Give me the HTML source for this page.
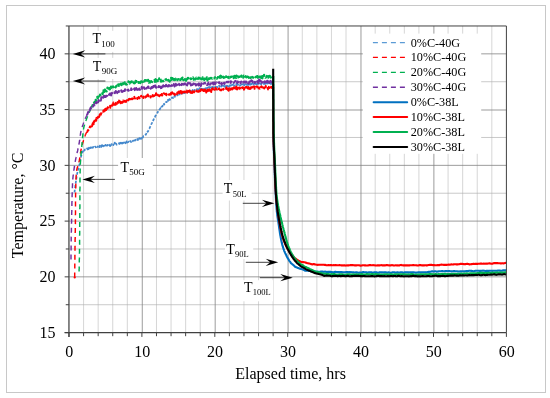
<!DOCTYPE html>
<html lang="en"><head><meta charset="utf-8"><title>Temperature vs elapsed time</title>
<style>html,body{margin:0;padding:0;background:#fff}body{width:550px;height:398px;overflow:hidden}svg{display:block;filter:blur(0.22px)}</style>
</head><body>
<svg width="550" height="398" viewBox="0 0 550 398" font-family="'Liberation Serif', 'Times New Roman', serif">
<rect x="0" y="0" width="550" height="398" fill="#fff"/>
<rect x="6.5" y="5.5" width="539" height="387" fill="#fff" stroke="#c8c8c8" stroke-width="1"/>
<path d="M83.58 25.98V332.60M98.16 25.98V332.60M112.74 25.98V332.60M127.32 25.98V332.60M156.48 25.98V332.60M171.06 25.98V332.60M185.64 25.98V332.60M200.22 25.98V332.60M229.38 25.98V332.60M243.96 25.98V332.60M258.54 25.98V332.60M273.12 25.98V332.60M302.28 25.98V332.60M316.86 25.98V332.60M331.44 25.98V332.60M346.02 25.98V332.60M375.18 25.98V332.60M389.76 25.98V332.60M404.34 25.98V332.60M418.92 25.98V332.60M448.08 25.98V332.60M462.66 25.98V332.60M477.24 25.98V332.60M491.82 25.98V332.60" stroke="#bcbcbc" stroke-width="0.62" fill="none"/>
<path d="M68.95 304.73H506.40M68.95 248.97H506.40M68.95 193.22H506.40M68.95 137.47H506.40M68.95 81.72H506.40" stroke="#adadad" stroke-width="0.65" fill="none"/>
<path d="M142.28 25.98V332.60M215.18 25.98V332.60M288.08 25.98V332.60M360.98 25.98V332.60M433.88 25.98V332.60M68.95 276.85H506.40M68.95 221.10H506.40M68.95 165.35H506.40M68.95 110.00H506.40M68.95 53.85H506.40" stroke="#808080" stroke-width="0.78" fill="none"/>
<path d="M74.5 192.4L74.5 192.1L74.6 191.8L74.6 191.5L74.6 191.2L74.7 190.9L74.7 190.6L74.7 190.3L74.8 190.0L74.8 189.7L74.8 189.4L74.9 189.1L74.9 188.8L75.0 188.5L75.0 188.2L75.0 187.9L75.1 187.6L75.1 187.3L75.2 187.0L75.2 186.7L75.2 186.4L75.3 186.1L75.3 185.8L75.3 185.6L75.4 185.3L75.4 185.0L75.5 184.6L75.5 184.4L75.5 184.1L75.6 183.8L75.6 183.5L75.7 183.2L75.7 182.9L75.8 182.6L75.8 182.3L75.8 182.0L75.9 181.7L75.9 181.4L76.0 181.1L76.0 180.8L76.1 180.5L76.1 180.2L76.1 179.9L76.2 179.6L76.2 179.3L76.3 179.0L76.3 178.7L76.4 178.4L76.4 178.1L76.5 177.9L76.5 177.5L76.5 177.2L76.6 176.9L76.6 176.6L76.7 176.3L76.7 176.1L76.8 175.8L76.8 175.5L76.9 175.2L77.0 174.9L77.0 174.6L77.1 174.3L77.1 174.0L77.2 173.7L77.2 173.4L77.3 173.1L77.4 172.8L77.4 172.6L77.5 172.2L77.6 171.9L77.6 171.7L77.7 171.3L77.8 171.1L77.9 170.8L77.9 170.5L78.0 170.2L78.1 169.9L78.2 169.6L78.3 169.3L78.3 169.1L78.4 168.7L78.5 168.4L78.6 168.2L78.6 167.9L78.7 167.6L78.8 167.3L78.9 167.0L78.9 166.7L79.0 166.5L79.1 166.1L79.1 165.8L79.2 165.6L79.3 165.2L79.3 165.0L79.4 164.7L79.4 164.4L79.5 164.0L79.6 163.8L79.6 163.4L79.7 163.1L79.7 162.9L79.8 162.6L79.8 162.3L79.9 162.0L79.9 161.7L80.0 161.4L80.1 161.1L80.1 160.8L80.2 160.5L80.2 160.2L80.3 159.9L80.3 159.6L80.4 159.3L80.5 159.0L80.5 158.7L80.6 158.4L80.7 158.2L80.7 157.8L80.8 157.6L80.9 157.3L80.9 157.0L81.0 156.7L81.1 156.4L81.2 156.1L81.2 155.8L81.3 155.6L81.4 155.2L81.5 155.0L81.6 154.6L81.7 154.4L81.8 154.0L81.9 153.8L82.0 153.4L82.1 153.0L82.2 152.9L82.3 152.6L82.4 152.2L82.6 152.0L82.7 151.7L82.8 151.4L83.0 151.5L83.1 151.0L83.3 150.9L83.5 150.5L83.7 150.3L83.9 149.9L84.1 150.7L84.4 150.0L84.6 150.3L84.9 149.8L85.2 149.3L85.5 149.4L85.8 149.1L86.1 149.3L86.4 149.0L86.7 148.9L87.0 148.3L87.3 148.4L87.6 149.5L87.9 148.3L88.2 148.0L88.5 148.6L88.7 149.0L89.0 147.5L89.3 148.0L89.6 147.7L89.9 147.1L90.2 148.2L90.5 147.8L90.7 147.7L91.0 147.2L91.3 147.8L91.6 147.2L91.9 147.3L92.2 146.7L92.5 146.6L92.8 147.9L93.1 146.8L93.4 147.2L93.7 146.9L94.0 146.7L94.3 146.6L94.6 147.1L94.9 146.6L95.2 146.6L95.4 146.7L95.7 147.3L96.0 147.0L96.3 146.8L96.6 146.2L96.9 145.7L97.2 147.0L97.5 147.0L97.8 146.3L98.1 146.7L98.4 146.8L98.7 146.8L99.0 146.8L99.3 146.0L99.6 147.1L99.9 145.5L100.2 146.6L100.5 146.4L100.8 146.6L101.1 147.1L101.4 146.9L101.7 145.4L102.0 145.1L102.3 146.4L102.6 145.4L102.9 145.9L103.2 146.3L103.5 144.9L103.8 144.6L104.1 145.9L104.4 145.7L104.7 145.6L105.0 145.7L105.3 145.2L105.6 144.8L105.9 145.5L106.2 145.0L106.5 144.6L106.8 145.7L107.1 145.4L107.4 145.6L107.7 144.8L108.0 145.0L108.3 144.7L108.6 144.8L108.9 145.3L109.2 144.7L109.5 145.3L109.8 145.3L110.1 146.2L110.4 144.3L110.7 145.5L111.0 144.9L111.2 144.9L111.5 144.1L111.8 144.6L112.1 145.2L112.4 144.7L112.7 144.7L113.0 144.5L113.3 145.2L113.6 144.6L113.9 143.3L114.2 144.1L114.5 143.4L114.8 142.6L115.1 144.1L115.4 145.0L115.7 144.3L116.0 143.6L116.3 143.7L116.6 144.7L116.9 144.2L117.2 144.1L117.5 144.0L117.8 144.0L118.1 144.3L118.4 144.1L118.7 143.9L119.0 143.2L119.3 144.0L119.6 143.3L119.9 144.2L120.1 142.9L120.4 143.4L120.7 143.4L121.0 142.7L121.3 144.2L121.6 144.0L121.9 143.0L122.2 143.6L122.5 143.3L122.8 141.7L123.1 143.1L123.4 142.9L123.7 142.9L124.0 142.3L124.3 142.6L124.6 142.6L124.9 143.3L125.2 142.8L125.5 142.5L125.7 143.3L126.0 142.1L126.3 142.1L126.6 141.3L126.9 143.0L127.2 142.7L127.5 142.6L127.8 142.4L128.1 142.0L128.4 142.0L128.7 141.7L129.0 141.7L129.3 141.7L129.6 142.4L129.9 141.8L130.1 141.5L130.4 141.1L130.7 141.0L131.0 142.1L131.3 141.5L131.6 141.2L131.9 140.9L132.2 140.4L132.5 140.9L132.8 141.3L133.0 140.5L133.3 140.5L133.6 140.5L133.9 140.5L134.2 139.6L134.5 140.2L134.8 139.8L135.1 140.6L135.4 139.7L135.6 140.3L135.9 140.6L136.2 139.6L136.5 139.4L136.8 139.7L137.1 139.5L137.4 138.9L137.7 139.5L138.0 140.2L138.3 139.0L138.6 138.9L138.9 138.4L139.1 138.9L139.4 138.1L139.7 138.0L140.0 139.1L140.3 137.9L140.5 138.7L140.8 138.8L141.1 138.1L141.3 138.1L141.6 138.5L141.8 137.5L142.1 137.2L142.3 136.7L142.6 137.2L142.8 137.5L143.0 137.2L143.3 136.3L143.5 136.2L143.7 136.1L144.0 136.2L144.2 135.8L144.4 135.7L144.6 135.5L144.9 135.1L145.1 135.0L145.3 134.8L145.5 134.5L145.7 134.4L145.9 134.5L146.1 134.0L146.3 133.6L146.5 133.0L146.7 133.2L146.9 132.5L147.0 132.4L147.2 132.6L147.4 132.3L147.5 131.9L147.7 131.4L147.9 131.4L148.0 131.1L148.2 131.0L148.3 131.0L148.4 130.4L148.6 130.1L148.7 129.8L148.9 129.6L149.0 129.3L149.1 129.0L149.2 128.8L149.4 128.4L149.5 128.4L149.6 128.1L149.7 127.8L149.9 127.4L150.0 127.2L150.1 126.9L150.2 126.5L150.4 126.3L150.5 125.9L150.6 125.6L150.7 125.5L150.9 125.2L151.0 124.9L151.1 124.8L151.3 124.2L151.4 124.0L151.5 123.9L151.7 123.6L151.8 123.3L151.9 123.1L152.0 122.8L152.2 122.4L152.3 122.1L152.4 122.0L152.6 121.7L152.7 121.2L152.8 121.3L152.9 120.9L153.1 120.7L153.2 120.3L153.3 120.0L153.5 119.7L153.6 119.8L153.7 119.2L153.9 119.1L154.0 118.6L154.1 118.4L154.3 118.0L154.4 117.8L154.5 117.7L154.7 117.2L154.8 117.2L155.0 116.9L155.1 116.4L155.2 116.2L155.4 116.0L155.5 115.8L155.7 115.5L155.8 115.2L156.0 115.0L156.1 114.6L156.3 114.3L156.4 114.2L156.6 114.1L156.8 113.5L156.9 113.5L157.1 113.1L157.2 112.8L157.4 112.8L157.6 112.4L157.7 112.4L157.9 111.8L158.1 111.8L158.2 111.4L158.4 111.1L158.6 111.1L158.7 110.7L158.9 110.6L159.1 110.2L159.3 109.8L159.4 109.7L159.6 109.5L159.8 109.5L160.0 108.8L160.2 108.8L160.4 108.2L160.5 108.5L160.7 107.9L160.9 107.5L161.1 107.6L161.3 107.6L161.5 106.8L161.7 106.7L161.9 106.5L162.1 106.2L162.3 106.3L162.5 105.8L162.7 105.6L162.9 105.7L163.1 105.2L163.3 105.2L163.5 104.7L163.7 104.4L163.9 104.0L164.1 104.8L164.4 103.9L164.6 103.9L164.8 103.6L165.0 103.4L165.2 103.2L165.4 103.5L165.6 102.5L165.9 102.1L166.1 102.1L166.3 101.8L166.5 102.2L166.7 102.1L167.0 101.3L167.2 101.0L167.4 101.1L167.7 101.5L167.9 99.9L168.1 100.8L168.4 100.1L168.6 100.6L168.8 99.7L169.1 99.8L169.3 99.2L169.6 99.2L169.8 99.9L170.1 99.5L170.3 98.9L170.6 98.5L170.8 97.9L171.1 98.4L171.3 98.3L171.6 98.2L171.8 98.0L172.1 97.4L172.3 97.7L172.6 97.6L172.9 98.0L173.1 98.1L173.4 97.1L173.6 96.7L173.9 96.9L174.2 96.5L174.4 96.3L174.7 96.5L175.0 95.9L175.3 96.5L175.5 96.1L175.8 96.1L176.1 95.8L176.4 95.4L176.6 95.2L176.9 95.4L177.2 95.1L177.5 95.4L177.8 95.1L178.0 94.4L178.3 95.0L178.6 94.2L178.9 94.4L179.2 94.5L179.4 93.5L179.7 94.4L180.0 94.4L180.3 94.1L180.6 93.9L180.8 93.8L181.1 93.4L181.4 93.6L181.7 93.4L182.0 93.6L182.3 92.9L182.5 93.5L182.8 93.4L183.1 93.1L183.4 92.9L183.7 93.3L184.0 92.1L184.3 93.1L184.6 92.9L184.8 92.8L185.1 92.8L185.4 92.2L185.7 92.3L186.0 92.7L186.3 92.5L186.6 92.3L186.9 91.4L187.2 92.3L187.4 92.6L187.7 92.4L188.0 91.9L188.3 90.9L188.6 92.2L188.9 91.5L189.2 90.2L189.5 91.6L189.8 90.6L190.1 90.6L190.4 90.9L190.6 91.8L190.9 90.9L191.2 91.2L191.5 91.9L191.8 91.7L192.1 90.8L192.4 90.6L192.7 90.0L193.0 90.3L193.3 90.8L193.6 90.7L193.9 90.5L194.2 90.9L194.4 89.9L194.7 90.2L195.0 90.5L195.3 90.4L195.6 90.6L195.9 90.2L196.2 89.8L196.5 90.1L196.8 89.3L197.1 88.9L197.4 90.0L197.7 89.6L198.0 89.7L198.3 88.6L198.6 89.3L198.9 89.1L199.2 88.9L199.5 88.1L199.7 89.1L200.0 89.7L200.3 89.3L200.6 88.8L200.9 89.0L201.2 89.4L201.5 87.5L201.8 88.8L202.1 89.1L202.4 89.2L202.7 89.7L203.0 89.3L203.3 88.8L203.6 88.8L203.9 89.0L204.2 88.2L204.5 88.4L204.8 88.9L205.1 89.4L205.4 88.2L205.7 88.3L206.0 88.4L206.3 88.9L206.6 88.1L206.9 88.9L207.2 87.6L207.4 87.9L207.7 87.9L208.0 88.4L208.3 88.5L208.6 87.1L208.9 87.3L209.2 88.0L209.5 87.4L209.8 86.9L210.1 88.2L210.4 87.9L210.7 87.9L211.0 87.3L211.3 88.1L211.6 87.3L211.9 88.0L212.2 86.9L212.5 86.9L212.8 87.4L213.1 86.9L213.4 87.6L213.7 87.3L214.0 86.7L214.3 87.2L214.6 86.9L214.9 87.6L215.2 86.7L215.5 86.8L215.8 87.6L216.1 88.1L216.4 88.0L216.7 86.9L217.0 86.9L217.3 87.6L217.6 86.7L217.9 86.2L218.2 86.7L218.5 86.9L218.8 86.2L219.1 85.7L219.4 85.8L219.7 86.9L220.0 86.1L220.3 86.4L220.6 86.5L220.8 86.7L221.1 86.2L221.4 86.6L221.7 85.8L222.0 86.0L222.3 85.7L222.6 86.8L222.9 86.1L223.2 85.7L223.5 85.9L223.8 85.9L224.1 86.4L224.4 85.1L224.7 85.4L225.0 85.7L225.3 87.3L225.6 86.4L225.9 85.8L226.2 86.2L226.5 86.9L226.8 85.6L227.1 85.5L227.4 86.4L227.7 85.9L228.0 86.0L228.3 85.3L228.6 86.6L228.9 86.5L229.2 85.8L229.5 85.9L229.8 84.4L230.1 85.8L230.4 85.3L230.7 85.6L231.0 85.7L231.3 85.1L231.6 84.4L231.9 85.5L232.2 84.8L232.5 85.0L232.8 84.9L233.1 85.0L233.4 83.9L233.7 85.8L234.0 85.2L234.3 85.6L234.6 86.1L234.9 85.0L235.2 84.0L235.5 84.4L235.8 84.2L236.1 84.6L236.4 84.9L236.7 83.7L237.0 85.0L237.3 83.9L237.6 84.9L237.9 84.6L238.2 84.5L238.5 84.6L238.8 84.3L239.1 84.3L239.4 83.7L239.7 84.5L240.0 85.5L240.3 85.6L240.6 85.2L240.9 84.8L241.2 84.1L241.5 85.2L241.8 84.4L242.1 84.3L242.4 84.2L242.7 84.4L243.0 84.1L243.3 84.3L243.6 83.7L243.9 84.1L244.2 85.5L244.5 84.2L244.8 84.1L245.1 84.5L245.4 84.6L245.7 83.6L246.0 84.1L246.3 84.7L246.6 84.3L246.9 84.2L247.2 85.0L247.4 83.8L247.7 84.2L248.0 83.8L248.3 84.9L248.6 83.0L248.9 83.7L249.2 83.8L249.5 84.4L249.8 84.4L250.1 84.8L250.4 83.2L250.7 84.4L251.0 83.8L251.3 83.6L251.6 84.3L251.9 83.5L252.2 82.8L252.5 83.7L252.8 83.1L253.1 83.6L253.4 84.1L253.7 84.1L254.0 84.8L254.3 83.8L254.6 83.0L254.9 83.5L255.2 83.4L255.5 83.2L255.8 84.1L256.1 83.5L256.4 82.8L256.7 84.2L257.0 83.8L257.3 84.0L257.6 83.9L257.9 84.1L258.2 83.8L258.5 84.5L258.8 84.0L259.1 84.0L259.4 84.0L259.7 83.0L260.0 83.7L260.3 83.6L260.6 83.8L260.9 83.0L261.2 84.6L261.5 83.8L261.8 83.0L262.1 82.8L262.4 83.5L262.7 83.6L263.0 83.3L263.3 83.7L263.6 83.3L263.9 84.0L264.2 83.2L264.5 83.6L264.8 84.2L265.1 85.0L265.4 83.1L265.7 83.4L266.0 83.1L266.3 84.0L266.6 83.0L266.9 83.3L267.2 83.6L267.5 83.0L267.8 83.0L268.1 83.3L268.4 82.4L268.7 82.8L269.0 83.3L269.3 83.6L269.6 83.4L269.9 82.6L270.2 83.3L270.5 84.0L270.8 83.8L271.1 83.5L271.4 83.0L271.7 83.9L272.0 83.2" fill="none" stroke="#4488cc" stroke-width="1.7" stroke-dasharray="2.8 1.7" stroke-linejoin="round"/>
<path d="M74.7 277.5L74.7 277.0L74.7 276.5L74.7 276.0L74.7 275.5L74.7 275.0L74.7 274.5L74.7 274.0L74.7 273.5L74.7 273.0L74.7 272.5L74.8 272.0L74.8 271.5L74.8 271.0L74.8 270.5L74.8 270.0L74.8 269.5L74.8 269.0L74.8 268.5L74.8 268.0L74.8 267.5L74.8 267.0L74.8 266.5L74.8 266.0L74.8 265.5L74.8 265.0L74.8 264.5L74.8 264.0L74.8 263.5L74.9 263.0L74.9 262.5L74.9 262.0L74.9 261.5L74.9 261.0L74.9 260.5L74.9 260.0L74.9 259.5L74.9 259.0L74.9 258.5L74.9 258.0L74.9 257.5L74.9 257.0L74.9 256.5L74.9 256.0L74.9 255.5L74.9 255.0L74.9 254.5L75.0 254.0L75.0 253.5L75.0 253.0L75.0 252.5L75.0 252.0L75.0 251.5L75.0 251.0L75.0 250.5L75.0 250.0L75.0 249.5L75.0 249.0L75.0 248.5L75.0 248.0L75.0 247.5L75.0 247.0L75.0 246.5L75.1 246.0L75.1 245.5L75.1 245.0L75.1 244.5L75.1 244.0L75.1 243.5L75.1 243.0L75.1 242.5L75.1 242.0L75.1 241.5L75.1 241.0L75.1 240.5L75.1 240.0L75.1 239.5L75.1 239.0L75.2 238.5L75.2 238.0L75.2 237.5L75.2 237.0L75.2 236.5L75.2 236.0L75.2 235.5L75.2 235.0L75.2 234.5L75.2 234.0L75.2 233.5L75.2 233.0L75.2 232.5L75.2 232.0L75.3 231.5L75.3 231.0L75.3 230.5L75.3 230.0L75.3 229.5L75.3 229.0L75.3 228.5L75.3 228.0L75.3 227.5L75.3 227.0L75.3 226.5L75.3 226.0L75.3 225.5L75.3 225.0L75.3 224.5L75.4 224.0L75.4 223.5L75.4 223.0L75.4 222.5L75.4 222.0L75.4 221.5L75.4 221.0L75.4 220.5L75.4 220.0L75.4 219.5L75.4 219.0L75.4 218.5L75.4 218.0L75.4 217.5L75.4 217.0L75.4 216.5L75.4 216.0L75.4 215.5L75.4 215.0L75.4 214.5L75.5 214.0L75.5 213.5L75.5 213.0L75.5 212.5L75.5 212.0L75.5 211.5L75.5 211.0L75.5 210.5L75.5 210.0L75.5 209.5L75.5 209.0L75.5 208.5L75.5 208.0L75.5 207.5L75.5 207.0L75.5 206.5L75.5 206.0L75.5 205.5L75.5 205.0L75.5 204.5L75.5 204.0L75.5 203.5L75.5 203.0L75.5 202.5L75.5 202.0L75.6 201.5L75.6 201.0L75.6 200.5L75.6 200.0L75.6 199.5L75.6 199.0L75.6 198.5L75.6 198.0L75.6 197.5L75.6 197.0L75.6 196.5L75.6 196.0L75.6 195.5L75.6 195.0L75.6 194.5L75.6 194.0L75.6 193.5L75.7 193.0L75.7 192.5L75.7 192.0L75.7 191.5L75.7 191.0L75.7 190.5L75.7 190.0L75.7 189.5L75.7 189.0L75.7 188.5L75.7 188.0L75.8 187.5L75.8 187.0L75.8 186.5L75.8 186.0L75.8 185.5L75.8 185.0L75.8 184.5L75.8 184.0L75.9 183.5L75.9 183.0L75.9 182.5L75.9 182.0L75.9 181.5L75.9 181.0L76.0 180.5L76.0 180.0L76.0 179.5L76.0 179.0L76.0 178.5L76.1 178.0L76.1 177.5L76.1 177.0L76.1 176.5L76.2 176.0L76.2 175.5L76.2 175.0L76.3 174.5L76.3 174.0L76.4 173.5L76.4 173.0L76.4 172.5L76.5 172.0L76.5 171.5L76.6 171.0L76.7 170.5L76.7 170.1L76.8 169.6L77.0 169.1L77.1 168.6L77.2 168.1L77.4 167.6L77.5 167.1L77.6 166.7L77.8 166.2L77.9 165.7L78.0 165.2L78.2 164.7L78.3 164.2L78.4 163.8L78.6 163.3L78.7 162.8L78.8 162.3L78.9 161.8L79.1 161.3L79.2 160.9L79.3 160.4L79.4 159.9L79.5 159.4L79.6 158.9L79.7 158.4L79.8 157.9L79.9 157.4L80.0 156.9L80.0 156.4L80.1 155.9L80.2 155.4L80.3 155.0L80.3 154.5L80.4 154.0L80.5 153.5L80.5 153.0L80.6 152.5L80.7 152.0L80.8 151.5L80.8 151.0L80.9 150.5L81.0 150.0L81.1 149.5L81.2 149.0L81.3 148.5L81.4 148.1L81.5 147.6L81.6 147.1L81.7 146.6L81.9 146.1L82.0 145.6L82.1 145.1L82.3 144.7L82.4 144.2L82.5 143.7L82.7 143.2L82.8 142.7L83.0 142.3L83.1 141.8L83.3 141.3L83.4 140.8L83.5 140.3L83.7 139.9L83.8 139.4L84.0 138.9L84.1 138.4L84.3 137.9L84.5 137.5L84.6 137.0L84.8 136.5L85.0 136.0L85.1 135.6L85.3 135.1L85.5 134.6L85.7 134.2L85.9 133.7L86.1 133.3L86.3 132.9L86.6 132.4L86.8 132.0L87.0 131.7" fill="none" stroke="#ff0000" stroke-width="1.45" stroke-dasharray="5 3.9" stroke-linejoin="round"/>
<path d="M87.0 131.5L87.2 131.7L87.4 131.7L87.6 131.0L87.8 130.5L88.0 130.4L88.2 129.9L88.4 130.0L88.6 129.8L88.8 129.4L89.0 129.0L89.2 128.3L89.4 128.3L89.6 127.6L89.8 127.4L90.0 126.6L90.2 126.8L90.5 126.5L90.7 126.8L90.9 126.7L91.1 125.8L91.3 125.4L91.5 125.1L91.7 125.8L91.9 126.3L92.1 125.6L92.4 124.4L92.6 125.2L92.8 123.2L93.0 124.4L93.2 122.7L93.4 121.6L93.6 124.3L93.8 123.4L94.0 121.4L94.3 121.9L94.5 121.3L94.7 121.0L94.9 119.7L95.1 120.2L95.3 120.6L95.5 120.2L95.7 120.4L95.9 119.4L96.2 120.7L96.4 118.1L96.6 119.0L96.8 117.9L97.0 118.8L97.3 119.8L97.5 117.7L97.7 117.9L97.9 117.3L98.2 116.7L98.4 116.5L98.6 116.3L98.9 115.7L99.1 116.9L99.3 116.4L99.6 115.2L99.8 114.4L100.0 115.0L100.3 114.7L100.5 115.2L100.7 115.6L101.0 113.7L101.2 113.0L101.4 113.0L101.7 112.9L101.9 112.4L102.2 112.1L102.4 112.1L102.6 111.6L102.9 111.8L103.1 111.2L103.4 110.9L103.6 110.4L103.9 111.5L104.1 110.6L104.4 111.2L104.7 110.5L104.9 110.7L105.2 109.0L105.5 109.6L105.8 111.3L106.1 108.6L106.3 109.8L106.6 109.8L106.9 108.7L107.2 108.7L107.5 108.7L107.8 107.3L108.1 107.5L108.4 106.6L108.7 106.6L109.0 106.5L109.2 106.4L109.5 106.7L109.8 106.9L110.1 105.8L110.4 107.8L110.7 107.2L111.0 107.1L111.3 105.7L111.6 105.7L111.9 105.3L112.2 105.7L112.5 104.4L112.8 105.4L113.1 105.9L113.4 102.5L113.7 104.8L114.0 104.8L114.4 104.1L114.7 104.8L115.0 103.1L115.3 103.8L115.7 104.7L116.0 102.7L116.3 102.7L116.7 102.3L117.0 102.7L117.3 103.6L117.7 102.0L118.0 102.9L118.4 101.3L118.7 102.4L119.0 101.3L119.4 99.8L119.7 101.7L120.0 101.6L120.4 101.9L120.7 103.2L121.1 101.2L121.4 101.2L121.7 102.6L122.1 101.9L122.4 102.7L122.8 101.6L123.1 100.5L123.5 101.0L123.8 101.6L124.1 101.7L124.5 100.9L124.8 101.2L125.2 100.6L125.5 100.4L125.9 101.9L126.2 100.7L126.5 100.4L126.9 100.7L127.2 102.0L127.6 101.5L127.9 100.7L128.3 99.7L128.6 99.9L128.9 99.0L129.3 99.2L129.6 100.3L129.9 98.9L130.3 99.3L130.6 99.2L131.0 99.3L131.3 98.7L131.6 100.3L132.0 99.2L132.3 98.7L132.6 99.1L133.0 98.4L133.3 97.2L133.7 97.5L134.0 97.5L134.3 96.9L134.7 98.2L135.0 98.5L135.4 97.6L135.7 97.1L136.1 97.6L136.4 98.1L136.7 98.1L137.1 97.8L137.4 98.9L137.8 97.6L138.1 97.4L138.5 98.4L138.8 97.0L139.1 97.5L139.5 98.3L139.8 97.8L140.2 97.1L140.5 97.3L140.9 97.5L141.2 95.8L141.6 96.5L141.9 96.1L142.2 95.7L142.6 96.0L142.9 96.7L143.3 98.0L143.6 96.9L144.0 96.6L144.3 96.3L144.7 96.1L145.0 96.6L145.4 97.5L145.7 96.6L146.1 96.3L146.4 96.7L146.7 95.6L147.1 95.7L147.4 96.0L147.8 94.6L148.1 95.5L148.5 96.3L148.8 96.0L149.2 96.6L149.5 96.3L149.9 96.0L150.2 95.9L150.6 97.5L150.9 96.0L151.3 95.4L151.6 95.0L152.0 95.0L152.3 96.1L152.7 95.1L153.0 96.4L153.4 94.8L153.7 96.1L154.1 95.6L154.4 95.9L154.8 94.6L155.1 95.7L155.4 95.0L155.8 95.0L156.1 93.3L156.5 95.7L156.8 94.9L157.2 94.8L157.5 94.7L157.9 94.8L158.2 95.5L158.6 94.5L158.9 95.0L159.3 96.2L159.6 95.9L160.0 95.1L160.3 95.0L160.7 95.4L161.0 95.8L161.4 95.9L161.7 94.1L162.1 95.6L162.4 95.0L162.8 94.6L163.1 95.3L163.5 93.9L163.8 93.2L164.2 93.5L164.5 93.9L164.9 94.2L165.2 94.4L165.6 95.0L165.9 93.8L166.3 95.2L166.6 93.9L167.0 94.2L167.3 94.2L167.7 93.9L168.0 93.5L168.4 94.1L168.7 94.5L169.1 94.9L169.4 94.4L169.8 93.2L170.1 93.5L170.5 93.4L170.8 94.6L171.1 92.8L171.5 94.4L171.8 92.8L172.2 92.3L172.5 93.5L172.9 94.3L173.2 94.6L173.6 94.6L173.9 93.5L174.3 94.5L174.6 94.8L175.0 94.2L175.3 94.9L175.7 94.6L176.0 94.8L176.3 93.9L176.7 93.7L177.0 94.1L177.4 92.6L177.7 93.4L178.1 93.0L178.4 92.8L178.8 91.5L179.1 92.7L179.5 94.0L179.8 92.9L180.2 93.3L180.5 91.1L180.9 93.2L181.2 92.7L181.5 93.5L181.9 91.4L182.2 92.3L182.6 91.5L182.9 92.5L183.3 91.8L183.6 91.9L184.0 93.4L184.3 91.5L184.7 91.9L185.0 92.1L185.4 91.5L185.7 92.3L186.1 92.4L186.4 91.4L186.8 90.6L187.1 92.6L187.5 92.1L187.8 92.4L188.2 92.5L188.5 91.1L188.9 91.6L189.2 91.0L189.5 90.5L189.9 91.9L190.2 90.6L190.6 92.8L190.9 91.5L191.3 91.4L191.6 92.6L192.0 93.0L192.3 92.3L192.7 91.3L193.0 92.6L193.4 93.4L193.7 91.8L194.1 91.3L194.4 92.2L194.8 91.3L195.1 90.6L195.5 90.7L195.8 90.7L196.2 90.8L196.5 90.6L196.9 91.3L197.2 91.7L197.6 90.7L197.9 91.9L198.3 91.9L198.6 91.1L199.0 91.6L199.3 90.5L199.7 90.6L200.0 92.1L200.4 90.9L200.7 89.7L201.1 90.9L201.4 89.4L201.8 89.7L202.1 89.6L202.5 90.0L202.8 90.0L203.2 90.3L203.5 91.0L203.8 89.6L204.2 91.1L204.5 89.5L204.9 89.7L205.2 91.1L205.6 91.0L205.9 90.3L206.3 92.5L206.6 90.8L207.0 91.3L207.3 90.6L207.7 90.9L208.0 89.6L208.4 90.8L208.7 89.9L209.1 90.9L209.4 89.5L209.8 89.9L210.1 91.5L210.5 90.8L210.8 90.5L211.2 91.9L211.5 90.7L211.9 89.1L212.2 89.6L212.6 88.2L212.9 89.9L213.3 90.2L213.6 89.5L214.0 89.6L214.3 89.7L214.7 89.8L215.0 89.1L215.4 90.0L215.7 87.9L216.1 89.1L216.4 89.3L216.7 89.5L217.1 89.6L217.4 88.5L217.8 89.5L218.1 89.3L218.5 89.0L218.8 88.6L219.2 88.5L219.5 90.3L219.9 89.2L220.2 90.2L220.6 90.0L220.9 90.1L221.3 90.3L221.6 89.3L222.0 89.2L222.3 90.4L222.7 89.5L223.0 89.5L223.4 88.8L223.7 89.9L224.1 90.1L224.4 90.0L224.8 90.0L225.1 89.9L225.5 89.7L225.8 89.0L226.2 88.8L226.5 87.4L226.9 89.6L227.2 88.5L227.6 89.8L227.9 88.9L228.3 89.4L228.6 90.7L229.0 89.1L229.3 88.0L229.7 88.1L230.0 88.4L230.4 89.8L230.7 88.5L231.1 89.3L231.4 87.8L231.8 88.7L232.1 88.2L232.5 89.4L232.8 88.0L233.2 89.0L233.5 88.9L233.9 87.4L234.2 88.3L234.6 87.8L234.9 87.1L235.3 88.6L235.6 88.1L236.0 87.1L236.3 86.5L236.7 89.3L237.0 88.8L237.4 89.3L237.7 88.7L238.1 87.8L238.4 89.0L238.8 88.8L239.1 88.4L239.5 87.5L239.8 87.8L240.2 89.2L240.5 89.2L240.9 89.1L241.2 88.4L241.6 88.4L241.9 87.6L242.3 87.4L242.6 87.9L243.0 87.3L243.3 88.1L243.7 87.9L244.0 89.6L244.4 88.7L244.7 87.7L245.0 87.3L245.4 88.7L245.7 87.5L246.1 86.9L246.4 87.2L246.8 87.1L247.1 87.7L247.5 86.5L247.8 88.4L248.2 87.0L248.5 88.9L248.9 87.4L249.2 88.9L249.6 87.2L249.9 87.7L250.3 88.4L250.6 88.8L251.0 87.3L251.3 87.6L251.7 86.1L252.0 87.2L252.4 87.5L252.7 87.3L253.1 86.7L253.4 87.0L253.8 87.3L254.1 88.1L254.5 88.8L254.8 86.6L255.2 87.4L255.5 87.0L255.9 87.5L256.2 86.9L256.6 86.9L256.9 86.2L257.3 87.6L257.6 88.2L258.0 87.6L258.3 88.4L258.7 87.3L259.0 87.3L259.4 88.2L259.7 88.6L260.1 88.1L260.4 88.2L260.8 88.2L261.1 86.6L261.5 86.4L261.8 88.4L262.2 88.7L262.5 88.5L262.9 87.2L263.2 87.8L263.6 87.8L263.9 87.8L264.3 88.4L264.6 86.8L265.0 86.4L265.3 87.2L265.7 86.0L266.0 86.5L266.4 87.2L266.7 87.7L267.1 87.0L267.4 88.0L267.8 87.8L268.1 89.4L268.5 88.6L268.8 86.9L269.2 87.5L269.5 87.9L269.9 87.6L270.2 88.5L270.6 87.6L270.9 86.8L271.3 87.6L271.6 87.0L272.0 87.9L272.0 87.2" fill="none" stroke="#ff0000" stroke-width="2.05" stroke-linejoin="round" stroke-dasharray="3.2 1.8"/>
<path d="M79.1 271.4L79.1 270.9L79.1 270.4L79.1 269.9L79.1 269.4L79.2 268.9L79.2 268.4L79.2 267.9L79.2 267.4L79.2 266.9L79.2 266.4L79.2 265.9L79.2 265.4L79.2 264.9L79.3 264.4L79.3 263.9L79.3 263.4L79.3 262.9L79.3 262.4L79.3 261.9L79.3 261.4L79.3 260.9L79.3 260.4L79.3 259.9L79.3 259.4L79.4 258.9L79.4 258.4L79.4 257.9L79.4 257.4L79.4 256.9L79.4 256.4L79.4 255.9L79.4 255.4L79.4 254.9L79.4 254.4L79.4 253.9L79.4 253.4L79.4 252.9L79.5 252.4L79.5 251.9L79.5 251.4L79.5 250.9L79.5 250.4L79.5 249.9L79.5 249.4L79.5 248.9L79.5 248.4L79.5 247.9L79.5 247.4L79.5 246.9L79.5 246.4L79.5 245.9L79.5 245.4L79.5 244.9L79.6 244.4L79.6 243.9L79.6 243.4L79.6 242.9L79.6 242.4L79.6 241.9L79.6 241.4L79.6 240.9L79.6 240.4L79.6 239.9L79.6 239.4L79.6 238.9L79.6 238.4L79.6 237.9L79.6 237.4L79.6 236.9L79.6 236.4L79.6 235.9L79.6 235.4L79.6 234.9L79.7 234.4L79.7 233.9L79.7 233.4L79.7 232.9L79.7 232.4L79.7 231.9L79.7 231.4L79.7 230.9L79.7 230.4L79.7 229.9L79.7 229.4L79.7 228.9L79.7 228.4L79.7 227.9L79.7 227.4L79.7 226.9L79.7 226.4L79.7 225.9L79.7 225.4L79.7 224.9L79.7 224.4L79.7 223.9L79.7 223.4L79.7 222.9L79.8 222.4L79.8 221.9L79.8 221.4L79.8 220.9L79.8 220.4L79.8 219.9L79.8 219.4L79.8 218.9L79.8 218.4L79.8 217.9L79.8 217.4L79.8 216.9L79.8 216.4L79.8 215.9L79.8 215.4L79.8 214.9L79.8 214.4L79.8 213.9L79.8 213.4L79.8 212.9L79.8 212.4L79.8 211.9L79.8 211.4L79.8 210.9L79.8 210.4L79.8 209.9L79.8 209.4L79.8 208.9L79.8 208.4L79.9 207.9L79.9 207.4L79.9 206.9L79.9 206.4L79.9 205.9L79.9 205.4L79.9 204.9L79.9 204.4L79.9 203.9L79.9 203.4L79.9 202.9L79.9 202.4L79.9 201.9L79.9 201.4L79.9 200.9L79.9 200.4L79.9 199.9L79.9 199.4L79.9 198.9L79.9 198.4L79.9 197.9L79.9 197.4L79.9 196.9L79.9 196.4L79.9 195.9L79.9 195.4L79.9 194.9L79.9 194.4L79.9 193.9L79.9 193.4L79.9 192.9L79.9 192.4L79.9 191.9L79.9 191.4L79.9 190.9L79.9 190.4L79.9 189.9L79.9 189.4L79.9 188.9L80.0 188.4L80.0 187.9L80.0 187.4L80.0 186.9L80.0 186.4L80.0 185.9L80.0 185.4L80.0 184.9L80.0 184.4L80.0 183.9L80.0 183.4L80.0 182.9L80.0 182.4L80.0 181.9L80.0 181.4L80.0 180.9L80.0 180.4L80.0 179.9L80.0 179.4L80.0 178.9L80.0 178.4L80.0 177.9L80.0 177.4L80.0 176.9L80.0 176.4L80.0 175.9L80.1 175.4L80.1 174.9L80.1 174.4L80.1 173.9L80.1 173.4L80.1 172.9L80.1 172.4L80.1 171.9L80.1 171.4L80.1 170.9L80.2 170.4L80.2 169.9L80.2 169.4L80.2 168.9L80.2 168.4L80.2 167.9L80.2 167.4L80.2 166.9L80.3 166.4L80.3 165.9L80.3 165.4L80.3 164.9L80.3 164.4L80.3 163.9L80.4 163.4L80.4 162.9L80.4 162.4L80.5 161.9L80.5 161.4L80.5 160.9L80.6 160.4L80.6 159.9L80.6 159.4L80.7 158.9L80.7 158.4L80.8 157.9L80.8 157.4L80.8 156.9L80.9 156.4L80.9 155.9L81.0 155.4L81.0 154.9L81.0 154.4L81.1 153.9L81.1 153.4L81.2 152.9L81.2 152.4L81.3 151.9L81.3 151.4L81.3 150.9L81.4 150.5L81.4 150.0L81.5 149.5L81.5 149.0L81.6 148.5L81.6 148.0L81.7 147.5L81.7 147.0L81.8 146.5L81.8 146.0L81.8 145.5L81.9 145.0L81.9 144.5L82.0 144.0L82.0 143.5L82.1 143.0L82.1 142.5L82.1 142.0L82.2 141.5L82.2 141.0L82.3 140.5L82.3 140.0L82.4 139.5L82.4 139.0L82.5 138.5L82.5 138.0L82.5 137.5L82.6 137.0L82.7 136.5L82.7 136.0L82.8 135.5L82.8 135.0L82.9 134.5L82.9 134.0L83.0 133.5L83.0 133.0L83.1 132.5L83.1 132.0L83.2 131.5L83.3 131.0L83.3 130.5L83.4 130.0L83.5 129.5L83.5 129.1L83.6 128.6L83.7 128.1L83.8 127.6L83.9 127.1L84.0 126.6L84.2 126.1L84.3 125.7L84.4 125.2L84.6 124.7L84.7 124.2L84.9 123.7L85.1 123.3L85.2 122.8L85.4 122.3L85.5 121.8L85.7 121.4L85.9 120.9L86.0 120.4L86.2 119.9L86.4 119.5L86.5 119.0L86.7 118.5L86.9 118.1L87.1 117.6L87.2 117.1L87.4 116.7L87.6 116.2L87.8 115.7L88.0 115.3L88.2 114.8L88.4 114.4L88.6 113.9L88.8 113.4L89.0 113.0L89.2 112.5L89.4 112.1L89.6 111.6L89.8 111.2L90.0 110.7L90.2 110.2L90.4 109.8L90.6 109.3L90.8 108.9L91.0 108.4L91.3 108.0L91.5 107.5L91.6 107.2" fill="none" stroke="#00b050" stroke-width="1.45" stroke-dasharray="5 3.9" stroke-linejoin="round"/>
<path d="M91.6 107.3L91.8 106.7L92.0 106.6L92.1 106.3L92.3 106.0L92.5 105.2L92.6 105.1L92.8 105.3L93.0 105.2L93.2 104.6L93.4 104.3L93.6 103.8L93.7 103.4L93.9 103.0L94.1 103.1L94.3 102.5L94.5 102.1L94.7 101.9L94.9 102.0L95.1 101.5L95.3 100.2L95.5 100.9L95.7 99.8L95.9 100.0L96.1 100.6L96.3 100.5L96.5 99.6L96.7 99.4L96.9 98.2L97.1 98.1L97.3 96.8L97.5 98.2L97.7 96.6L98.0 97.9L98.2 97.3L98.4 96.5L98.6 96.8L98.9 96.5L99.1 96.7L99.3 97.3L99.6 96.3L99.8 96.1L100.1 94.5L100.3 95.4L100.6 94.9L100.8 94.4L101.1 94.4L101.3 94.5L101.6 94.6L101.9 94.0L102.1 93.6L102.4 93.1L102.6 94.1L102.9 91.7L103.2 91.6L103.4 92.3L103.7 89.6L104.0 91.1L104.2 92.0L104.5 89.9L104.8 91.9L105.1 88.4L105.4 90.7L105.7 91.2L106.0 91.0L106.3 91.2L106.6 91.4L106.9 90.0L107.2 89.9L107.5 87.5L107.8 87.8L108.2 88.6L108.5 88.3L108.8 88.9L109.1 89.3L109.4 88.0L109.7 89.4L110.1 89.0L110.4 87.4L110.7 87.9L111.0 86.5L111.3 87.2L111.7 87.9L112.0 87.9L112.3 88.0L112.6 86.6L112.9 87.3L113.3 86.8L113.6 87.2L113.9 86.4L114.3 86.2L114.6 85.9L114.9 86.8L115.3 86.9L115.6 87.3L115.9 86.5L116.3 86.0L116.6 85.6L116.9 86.1L117.3 85.4L117.6 85.9L117.9 85.6L118.3 84.3L118.6 84.8L118.9 85.9L119.3 85.0L119.6 84.1L120.0 84.7L120.3 83.8L120.6 83.8L121.0 83.9L121.3 83.0L121.7 85.1L122.0 83.5L122.3 83.9L122.7 83.4L123.0 84.4L123.4 83.9L123.7 84.1L124.1 82.9L124.4 83.3L124.7 82.4L125.1 83.7L125.4 83.9L125.8 83.3L126.1 84.6L126.5 84.3L126.8 84.4L127.2 84.0L127.5 83.2L127.9 83.3L128.2 83.3L128.5 81.4L128.9 83.9L129.2 83.4L129.6 83.6L129.9 82.8L130.3 81.8L130.6 81.9L131.0 83.7L131.3 82.3L131.7 81.3L132.0 82.6L132.4 82.9L132.7 82.2L133.1 81.8L133.4 81.9L133.7 83.1L134.1 83.3L134.4 83.1L134.8 83.1L135.1 82.9L135.5 80.9L135.8 82.1L136.2 81.8L136.5 81.2L136.9 81.0L137.2 81.0L137.6 80.6L137.9 80.4L138.3 81.1L138.6 82.8L139.0 81.0L139.3 80.8L139.7 82.5L140.0 82.9L140.4 83.1L140.7 81.7L141.1 82.8L141.4 81.3L141.8 81.5L142.1 81.8L142.5 81.8L142.8 82.0L143.2 81.5L143.5 81.0L143.9 81.7L144.2 81.0L144.6 81.4L144.9 80.1L145.3 80.4L145.6 82.2L146.0 80.2L146.3 80.6L146.7 80.5L147.0 80.7L147.4 80.8L147.7 82.3L148.1 79.8L148.4 82.0L148.8 82.6L149.1 81.4L149.5 81.2L149.8 81.9L150.1 82.5L150.5 80.8L150.8 81.3L151.2 81.1L151.5 81.7L151.9 81.7L152.2 82.0L152.6 81.2L152.9 81.3L153.3 81.0L153.6 80.8L154.0 80.5L154.3 80.5L154.7 79.9L155.0 81.8L155.4 80.3L155.7 79.2L156.1 81.6L156.4 80.6L156.8 81.2L157.1 80.4L157.5 80.3L157.8 81.1L158.2 80.2L158.5 80.1L158.9 80.8L159.2 78.4L159.6 80.2L159.9 79.9L160.3 79.1L160.6 79.4L161.0 81.6L161.3 80.2L161.7 81.1L162.0 81.3L162.4 80.8L162.7 81.1L163.1 80.8L163.4 81.2L163.8 80.6L164.1 80.3L164.5 80.0L164.8 80.4L165.2 80.4L165.5 79.3L165.9 79.8L166.2 79.9L166.5 79.0L166.9 78.9L167.2 78.3L167.6 79.0L167.9 79.7L168.3 80.5L168.6 79.9L169.0 81.2L169.3 79.8L169.7 81.6L170.0 80.2L170.4 79.4L170.7 79.3L171.1 77.9L171.4 79.8L171.8 79.4L172.1 80.4L172.5 78.1L172.8 80.6L173.2 79.2L173.5 79.8L173.9 77.8L174.2 79.7L174.6 79.4L174.9 80.1L175.3 79.5L175.6 78.7L176.0 79.8L176.3 79.5L176.7 79.3L177.0 79.5L177.4 80.1L177.7 79.9L178.1 79.1L178.4 79.1L178.8 80.3L179.1 80.1L179.5 79.5L179.8 79.3L180.2 80.1L180.5 79.9L180.9 79.2L181.2 78.7L181.6 80.3L181.9 79.3L182.3 77.7L182.6 77.6L183.0 78.2L183.3 80.1L183.7 80.1L184.0 79.7L184.4 79.6L184.7 79.4L185.1 78.3L185.4 79.7L185.8 79.1L186.1 80.7L186.5 78.4L186.8 78.6L187.2 79.1L187.5 78.5L187.9 77.8L188.2 78.0L188.6 78.4L188.9 78.2L189.3 78.4L189.6 79.1L190.0 79.4L190.3 78.7L190.7 79.1L191.0 78.5L191.4 78.8L191.7 78.8L192.1 78.8L192.4 79.0L192.8 78.1L193.1 77.5L193.5 78.2L193.8 79.7L194.2 79.0L194.5 79.6L194.9 78.5L195.2 79.4L195.6 79.2L195.9 79.0L196.3 77.7L196.6 78.0L197.0 78.2L197.3 77.6L197.7 78.7L198.0 79.0L198.4 77.7L198.7 79.3L199.1 77.9L199.4 78.4L199.8 78.6L200.1 77.9L200.5 78.1L200.8 77.6L201.2 79.1L201.5 79.3L201.9 79.4L202.2 78.5L202.6 77.4L202.9 77.9L203.3 77.2L203.6 78.8L204.0 78.5L204.3 80.1L204.7 78.9L205.0 79.4L205.4 78.9L205.7 79.0L206.1 78.5L206.4 78.2L206.8 77.3L207.1 78.6L207.5 80.4L207.8 78.4L208.2 78.0L208.5 77.4L208.9 77.2L209.2 79.0L209.6 78.6L209.9 78.4L210.3 79.4L210.6 79.8L211.0 77.8L211.3 78.4L211.7 78.1L212.0 78.4L212.3 78.6L212.7 78.1L213.0 78.7L213.4 78.5L213.7 78.5L214.1 78.4L214.4 78.1L214.8 77.3L215.1 77.4L215.5 78.3L215.8 77.8L216.2 77.8L216.5 78.0L216.9 78.6L217.2 78.1L217.6 77.8L217.9 77.5L218.3 75.6L218.6 76.9L219.0 77.2L219.3 77.0L219.7 76.4L220.0 77.8L220.4 76.4L220.7 75.7L221.1 76.2L221.4 77.2L221.8 78.5L222.1 78.7L222.5 78.0L222.8 77.0L223.2 76.7L223.5 77.2L223.9 77.8L224.2 77.1L224.6 77.4L224.9 77.5L225.3 76.6L225.6 77.1L226.0 76.3L226.3 76.5L226.7 77.0L227.0 78.2L227.4 77.8L227.7 77.1L228.1 77.7L228.4 76.8L228.8 78.0L229.1 77.2L229.5 77.4L229.8 77.9L230.2 77.7L230.5 76.8L230.9 76.8L231.2 77.0L231.6 76.7L231.9 76.6L232.3 76.9L232.6 78.0L233.0 77.1L233.3 76.5L233.7 78.1L234.0 78.0L234.4 77.7L234.7 75.9L235.1 76.9L235.4 77.7L235.8 77.7L236.1 77.9L236.5 75.5L236.8 76.5L237.2 76.1L237.5 77.7L237.9 76.9L238.2 77.3L238.6 76.7L238.9 76.5L239.3 76.6L239.6 76.9L240.0 76.8L240.3 78.4L240.7 77.9L241.0 76.7L241.4 75.6L241.7 76.2L242.1 76.2L242.4 77.9L242.8 77.5L243.1 77.7L243.5 77.1L243.8 75.7L244.2 75.9L244.5 75.4L244.9 76.4L245.2 76.6L245.6 76.1L245.9 76.3L246.3 77.4L246.6 75.8L247.0 76.2L247.3 76.8L247.7 76.6L248.0 76.7L248.4 77.2L248.7 77.8L249.1 76.2L249.4 77.4L249.8 77.7L250.1 77.5L250.5 78.0L250.8 77.4L251.2 78.3L251.5 77.1L251.9 77.4L252.2 76.9L252.6 77.1L252.9 77.0L253.3 77.7L253.6 77.3L254.0 77.2L254.3 76.8L254.7 76.1L255.0 76.6L255.4 77.0L255.7 77.3L256.1 76.8L256.4 76.4L256.8 78.0L257.1 77.6L257.5 76.1L257.8 77.7L258.2 76.6L258.5 76.2L258.9 77.3L259.2 77.0L259.6 76.6L259.9 78.2L260.3 76.6L260.6 77.6L261.0 77.8L261.3 76.3L261.7 76.9L262.0 77.3L262.4 78.3L262.7 76.2L263.1 77.3L263.4 77.7L263.8 76.4L264.1 74.8L264.5 75.9L264.8 76.3L265.2 77.1L265.5 77.7L265.9 77.5L266.2 77.0L266.6 76.7L266.9 76.0L267.3 76.4L267.6 77.6L268.0 77.4L268.3 77.7L268.7 76.1L269.0 77.3L269.4 77.4L269.7 75.9L270.1 76.3L270.4 76.6L270.8 77.6L271.1 77.1L271.5 76.3L271.8 75.9L272.0 76.3" fill="none" stroke="#00b050" stroke-width="2.2" stroke-linejoin="round" stroke-dasharray="3.2 1.8"/>
<path d="M71.0 259.4L71.0 258.9L71.0 258.4L71.0 257.9L71.0 257.4L71.0 256.9L71.0 256.4L71.0 255.9L71.0 255.4L71.0 254.9L71.0 254.4L71.0 253.9L71.0 253.4L71.0 252.9L71.1 252.4L71.1 251.9L71.1 251.4L71.1 250.9L71.1 250.4L71.1 249.9L71.1 249.4L71.1 248.9L71.1 248.4L71.1 247.9L71.1 247.4L71.1 246.9L71.1 246.4L71.1 245.9L71.1 245.4L71.1 244.9L71.1 244.4L71.1 243.9L71.2 243.4L71.2 242.9L71.2 242.4L71.2 241.9L71.2 241.4L71.2 240.9L71.2 240.4L71.2 239.9L71.2 239.4L71.2 238.9L71.2 238.4L71.2 237.9L71.2 237.4L71.2 236.9L71.3 236.4L71.3 235.9L71.3 235.4L71.3 234.9L71.3 234.4L71.3 233.9L71.3 233.4L71.3 232.9L71.3 232.4L71.3 231.9L71.4 231.4L71.4 230.9L71.4 230.4L71.4 229.9L71.4 229.4L71.4 228.9L71.4 228.4L71.4 227.9L71.4 227.4L71.5 226.9L71.5 226.4L71.5 225.9L71.5 225.4L71.5 224.9L71.5 224.4L71.5 223.9L71.5 223.4L71.5 222.9L71.6 222.4L71.6 221.9L71.6 221.4L71.6 220.9L71.6 220.4L71.6 219.9L71.6 219.4L71.6 218.9L71.6 218.4L71.6 217.9L71.7 217.4L71.7 216.9L71.7 216.4L71.7 215.9L71.7 215.4L71.7 214.9L71.7 214.4L71.7 213.9L71.7 213.4L71.7 212.9L71.7 212.4L71.8 211.9L71.8 211.4L71.8 210.9L71.8 210.4L71.8 209.9L71.8 209.4L71.8 208.9L71.8 208.4L71.8 207.9L71.8 207.4L71.8 206.9L71.9 206.4L71.9 205.9L71.9 205.4L71.9 204.9L71.9 204.4L71.9 203.9L71.9 203.4L71.9 202.9L71.9 202.4L72.0 201.9L72.0 201.4L72.0 200.9L72.0 200.4L72.0 199.9L72.0 199.4L72.0 198.9L72.0 198.4L72.1 197.9L72.1 197.4L72.1 196.9L72.1 196.4L72.1 195.9L72.1 195.4L72.1 194.9L72.2 194.4L72.2 193.9L72.2 193.4L72.2 192.9L72.2 192.4L72.2 191.9L72.2 191.4L72.3 190.9L72.3 190.4L72.3 189.9L72.3 189.4L72.3 188.9L72.4 188.4L72.4 187.9L72.4 187.4L72.4 186.9L72.4 186.4L72.5 185.9L72.5 185.4L72.5 184.9L72.5 184.4L72.5 183.9L72.6 183.4L72.6 182.9L72.6 182.4L72.6 181.9L72.7 181.4L72.7 180.9L72.7 180.4L72.8 179.9L72.8 179.4L72.8 178.9L72.9 178.4L72.9 177.9L73.0 177.4L73.0 176.9L73.1 176.4L73.1 175.9L73.2 175.4L73.3 175.0L73.3 174.5L73.4 174.0L73.4 173.5L73.5 173.0L73.6 172.5L73.6 172.0L73.7 171.5L73.8 171.0L73.8 170.5L73.9 170.0L74.0 169.5L74.1 169.0L74.1 168.5L74.2 168.0L74.3 167.5L74.4 167.0L74.4 166.5L74.5 166.0L74.6 165.5L74.7 165.0L74.7 164.5L74.8 164.1L74.9 163.6L75.0 163.1L75.0 162.6L75.1 162.1L75.2 161.6L75.3 161.1L75.4 160.6L75.5 160.1L75.6 159.6L75.7 159.1L75.8 158.6L75.9 158.1L76.0 157.7L76.1 157.2L76.2 156.7L76.3 156.2L76.4 155.7L76.5 155.2L76.6 154.7L76.7 154.2L76.8 153.8L77.0 153.3L77.1 152.8L77.2 152.3L77.4 151.8L77.5 151.3L77.6 150.9L77.7 150.4L77.8 149.9L77.9 149.4L78.0 148.9L78.1 148.4L78.3 147.9L78.4 147.4L78.5 146.9L78.6 146.5L78.7 146.0L78.7 145.5L78.8 145.0L78.9 144.5L79.0 144.0L79.1 143.5L79.2 143.0L79.3 142.5L79.4 142.0L79.4 141.5L79.5 141.0L79.6 140.5L79.7 140.0L79.7 139.5L79.8 139.0L79.8 138.6L79.9 138.1L80.0 137.6L80.0 137.1L80.1 136.6L80.2 136.1L80.2 135.6L80.3 135.1L80.4 134.6L80.5 134.1L80.5 133.6L80.6 133.1L80.7 132.6L80.8 132.1L80.9 131.6L81.0 131.1L81.1 130.7L81.2 130.2L81.3 129.7L81.5 129.2L81.6 128.7L81.8 128.3L81.9 127.8L82.1 127.3L82.2 126.8L82.4 126.3L82.5 125.9L82.7 125.4L82.9 124.9L83.0 124.5L83.2 124.0L83.4 123.5L83.5 123.0L83.7 122.6L83.9 122.1L84.0 121.6L84.2 121.2L84.4 120.7L84.6 120.2L84.8 119.8L85.0 119.3L85.2 118.8L85.3 118.4L85.5 117.9L85.7 117.5L85.9 117.0L86.2 116.5L86.4 116.1L86.6 115.6L86.8 115.2L86.9 114.9" fill="none" stroke="#7030a0" stroke-width="1.45" stroke-dasharray="5 3.9" stroke-linejoin="round"/>
<path d="M86.9 115.3L87.1 114.7L87.3 114.5L87.4 114.1L87.6 113.9L87.7 113.4L87.9 112.8L88.1 112.6L88.3 111.9L88.4 112.2L88.6 111.5L88.8 111.7L89.0 110.8L89.1 110.9L89.3 110.1L89.5 109.8L89.7 110.1L89.9 109.6L90.1 109.7L90.3 108.5L90.5 108.5L90.7 107.5L90.9 107.8L91.1 107.8L91.3 108.0L91.6 107.3L91.8 106.9L92.0 107.0L92.3 106.5L92.5 107.1L92.8 106.7L93.0 106.3L93.3 105.7L93.6 105.7L93.8 104.4L94.1 104.5L94.4 105.1L94.6 105.2L94.9 104.4L95.1 103.6L95.4 103.8L95.7 102.5L95.9 103.2L96.2 102.1L96.5 102.7L96.7 103.1L97.0 102.0L97.3 102.4L97.6 103.5L97.8 103.7L98.1 102.2L98.4 101.4L98.6 100.1L98.9 101.0L99.2 100.3L99.5 100.4L99.7 99.9L100.0 100.4L100.3 99.8L100.6 100.2L100.8 100.6L101.1 99.2L101.4 97.2L101.7 97.3L101.9 97.7L102.2 98.1L102.5 98.6L102.8 97.9L103.1 97.3L103.3 97.6L103.6 96.8L103.9 95.8L104.2 95.9L104.5 96.0L104.8 97.0L105.1 95.1L105.4 96.5L105.7 97.0L106.0 95.8L106.3 96.2L106.6 95.9L107.0 95.9L107.3 95.8L107.6 94.7L107.9 95.8L108.3 95.9L108.6 95.9L108.9 95.3L109.2 94.3L109.6 94.4L109.9 93.5L110.2 94.8L110.5 94.2L110.9 93.5L111.2 95.4L111.5 92.9L111.8 92.9L112.1 93.2L112.5 92.0L112.8 92.8L113.1 92.6L113.5 92.9L113.8 92.4L114.1 92.3L114.5 93.0L114.8 93.1L115.1 92.9L115.5 92.1L115.8 91.0L116.2 92.3L116.5 91.6L116.8 92.1L117.2 93.1L117.5 92.4L117.9 91.8L118.2 92.1L118.5 92.0L118.9 91.0L119.2 91.9L119.6 91.4L119.9 91.5L120.3 90.9L120.6 91.4L120.9 90.9L121.3 90.3L121.6 91.8L122.0 91.3L122.3 91.9L122.7 91.6L123.0 90.9L123.4 89.3L123.7 90.4L124.1 90.8L124.4 90.9L124.8 91.0L125.1 89.2L125.4 89.7L125.8 88.8L126.1 89.4L126.5 90.0L126.8 90.5L127.2 90.1L127.5 90.5L127.9 90.0L128.2 89.6L128.6 90.8L128.9 90.2L129.3 89.3L129.6 89.5L130.0 89.5L130.3 90.2L130.6 89.6L131.0 90.0L131.3 88.4L131.7 89.4L132.0 89.8L132.4 90.1L132.7 90.3L133.1 90.0L133.4 90.7L133.8 90.2L134.1 88.9L134.5 88.3L134.8 90.1L135.1 88.8L135.5 89.9L135.8 90.2L136.2 88.1L136.5 89.3L136.9 89.2L137.2 89.9L137.6 89.2L137.9 90.0L138.3 88.6L138.6 88.3L139.0 89.6L139.3 88.6L139.7 89.0L140.0 89.8L140.4 88.1L140.7 88.1L141.1 88.8L141.4 88.2L141.8 86.9L142.1 88.8L142.5 87.3L142.8 88.5L143.2 88.4L143.5 88.3L143.9 87.2L144.2 87.9L144.6 88.9L144.9 88.4L145.3 88.4L145.6 87.4L146.0 87.9L146.3 87.1L146.6 88.4L147.0 87.7L147.3 87.5L147.7 87.1L148.0 86.7L148.4 86.5L148.7 87.9L149.1 86.7L149.4 87.1L149.8 87.2L150.1 87.5L150.5 88.2L150.8 88.7L151.2 87.7L151.5 87.1L151.9 87.1L152.2 87.9L152.6 86.0L152.9 87.6L153.3 86.1L153.6 86.0L154.0 86.0L154.3 86.6L154.6 87.4L155.0 88.2L155.3 85.4L155.7 87.0L156.0 87.6L156.4 87.1L156.7 87.7L157.1 87.3L157.4 86.3L157.8 86.0L158.1 87.0L158.5 87.1L158.8 86.1L159.2 86.6L159.5 87.0L159.9 85.4L160.2 86.3L160.6 87.4L160.9 88.1L161.3 86.8L161.6 87.9L162.0 85.4L162.3 85.1L162.7 84.5L163.0 86.8L163.3 85.3L163.7 86.4L164.0 85.6L164.4 85.7L164.7 84.6L165.1 86.5L165.4 85.9L165.8 86.1L166.1 84.7L166.5 86.1L166.8 86.6L167.2 85.9L167.5 86.4L167.9 85.8L168.2 85.6L168.6 85.2L168.9 86.4L169.3 85.6L169.6 85.3L170.0 85.6L170.3 84.2L170.7 85.3L171.0 86.1L171.4 85.4L171.7 85.1L172.1 85.8L172.4 84.2L172.8 84.9L173.1 85.7L173.5 85.7L173.8 84.1L174.2 85.4L174.5 86.4L174.9 85.7L175.2 86.2L175.6 84.8L175.9 83.9L176.3 85.5L176.6 84.7L177.0 85.1L177.3 84.7L177.7 85.3L178.0 85.7L178.4 86.4L178.7 84.8L179.1 83.9L179.4 85.3L179.8 84.6L180.1 84.9L180.5 84.7L180.8 86.3L181.1 85.0L181.5 85.1L181.8 83.7L182.2 84.0L182.5 84.0L182.9 84.2L183.2 84.6L183.6 83.9L183.9 85.7L184.3 83.6L184.6 83.6L185.0 83.9L185.3 83.5L185.7 85.1L186.0 85.5L186.4 85.1L186.7 86.5L187.1 85.1L187.4 84.6L187.8 83.4L188.1 82.9L188.5 83.8L188.8 84.3L189.2 84.3L189.5 85.0L189.9 83.1L190.2 83.9L190.6 83.6L190.9 85.4L191.3 84.1L191.6 83.7L192.0 83.4L192.3 84.9L192.7 84.2L193.0 84.4L193.4 83.5L193.7 85.3L194.1 84.8L194.4 84.4L194.8 84.7L195.1 83.9L195.5 84.3L195.8 85.4L196.2 85.3L196.5 84.6L196.9 84.5L197.2 84.2L197.6 84.8L197.9 84.8L198.3 83.9L198.6 85.4L199.0 83.4L199.3 84.4L199.7 84.8L200.0 83.7L200.4 83.3L200.7 86.1L201.1 85.1L201.4 83.2L201.8 84.1L202.1 82.8L202.5 83.0L202.8 83.5L203.2 83.8L203.5 83.5L203.9 83.6L204.2 83.0L204.6 83.1L204.9 83.2L205.3 83.4L205.6 82.8L206.0 82.8L206.3 82.6L206.7 83.6L207.0 84.9L207.4 85.0L207.7 83.9L208.1 84.4L208.4 82.6L208.8 83.9L209.1 83.1L209.5 84.3L209.8 84.7L210.2 84.2L210.5 84.5L210.9 83.3L211.2 83.4L211.6 83.7L211.9 85.0L212.3 83.1L212.6 83.2L213.0 82.5L213.3 84.4L213.7 82.9L214.0 83.7L214.4 83.8L214.7 82.6L215.1 84.3L215.4 83.8L215.8 82.7L216.1 82.7L216.5 82.5L216.8 82.8L217.2 84.1L217.5 83.9L217.9 83.3L218.2 82.7L218.6 82.6L218.9 82.9L219.3 82.2L219.6 83.0L220.0 84.4L220.3 84.0L220.7 82.4L221.0 82.7L221.4 83.7L221.7 84.7L222.1 82.3L222.4 83.2L222.8 83.7L223.1 84.3L223.5 83.2L223.8 83.2L224.2 82.7L224.5 84.0L224.8 83.1L225.2 82.5L225.5 82.5L225.9 83.8L226.2 83.1L226.6 81.9L226.9 82.1L227.3 81.9L227.6 82.1L228.0 82.1L228.3 81.7L228.7 82.3L229.0 82.3L229.4 83.2L229.7 83.2L230.1 81.9L230.4 81.5L230.8 82.9L231.1 81.4L231.5 81.6L231.8 82.5L232.2 82.1L232.5 81.7L232.9 81.3L233.2 81.2L233.6 82.0L233.9 82.7L234.3 82.1L234.6 82.0L235.0 81.2L235.3 80.9L235.7 82.8L236.0 82.2L236.4 81.5L236.7 81.4L237.1 82.4L237.4 82.9L237.8 81.5L238.1 82.2L238.5 81.5L238.8 81.8L239.2 82.8L239.5 82.8L239.9 82.1L240.2 82.5L240.6 83.3L240.9 81.9L241.3 81.5L241.6 82.7L242.0 83.1L242.3 83.6L242.7 83.5L243.0 82.2L243.4 82.7L243.7 81.9L244.1 81.4L244.4 81.4L244.8 83.2L245.1 81.3L245.5 82.8L245.8 81.5L246.2 81.6L246.5 82.0L246.9 82.5L247.2 82.6L247.6 81.6L247.9 81.8L248.3 82.1L248.6 83.6L249.0 82.9L249.3 81.7L249.7 81.5L250.0 81.4L250.4 81.9L250.7 82.7L251.1 83.2L251.4 80.2L251.8 81.2L252.1 81.1L252.5 81.1L252.8 82.1L253.2 82.1L253.5 82.2L253.9 82.8L254.2 81.2L254.6 83.0L254.9 81.8L255.3 82.5L255.6 81.6L256.0 82.4L256.3 82.4L256.7 82.8L257.0 81.7L257.4 81.1L257.7 82.4L258.1 82.5L258.4 83.2L258.8 79.5L259.1 80.6L259.5 81.1L259.8 80.0L260.2 81.0L260.5 83.1L260.9 82.7L261.2 81.2L261.6 82.6L261.9 82.7L262.3 82.5L262.6 81.7L263.0 81.5L263.3 80.2L263.7 80.6L264.0 81.9L264.4 81.5L264.7 82.6L265.1 80.7L265.4 79.8L265.8 81.3L266.1 82.2L266.5 82.0L266.8 81.6L267.2 80.7L267.5 82.3L267.9 81.0L268.2 82.1L268.6 81.9L268.9 81.4L269.3 83.0L269.6 80.4L270.0 81.5L270.3 82.0L270.7 80.9L271.0 81.8L271.4 81.7L271.7 81.7L272.0 83.2" fill="none" stroke="#7030a0" stroke-width="2.05" stroke-linejoin="round" stroke-dasharray="4.6 2.6"/>
<circle cx="74.7" cy="277.5" r="1.1" fill="#ff0000"/>
<path d="M273.2 84.0L273.2 84.7L273.2 85.4L273.2 86.1L273.2 86.8L273.2 87.5L273.2 88.2L273.2 88.9L273.2 89.6L273.2 90.3L273.2 91.0L273.2 91.7L273.2 92.4L273.2 93.1L273.2 93.8L273.2 94.5L273.2 95.2L273.2 95.9L273.2 96.6L273.2 97.3L273.2 98.0L273.2 98.7L273.2 99.4L273.2 100.1L273.2 100.8L273.2 101.5L273.2 102.2L273.2 102.9L273.2 103.6L273.2 104.3L273.2 105.0L273.2 105.7L273.2 106.4L273.2 107.1L273.2 107.8L273.2 108.5L273.2 109.2L273.2 109.9L273.2 110.6L273.2 111.3L273.2 112.0L273.2 112.7L273.2 113.4L273.2 114.1L273.2 114.8L273.2 115.5L273.2 116.2L273.3 116.9L273.3 117.6L273.3 118.3L273.3 119.0L273.3 119.7L273.3 120.4L273.3 121.1L273.3 121.8L273.3 122.5L273.3 123.2L273.3 123.9L273.3 124.6L273.3 125.3L273.3 126.0L273.3 126.7L273.3 127.4L273.3 128.1L273.3 128.8L273.3 129.5L273.3 130.2L273.3 130.9L273.3 131.6L273.3 132.3L273.3 133.0L273.3 133.7L273.3 134.4L273.4 135.1L273.4 135.8L273.4 136.5L273.4 137.2L273.4 137.9L273.4 138.6L273.5 139.3L273.5 140.0L273.5 140.7L273.5 141.4L273.5 142.1L273.6 142.8L273.6 143.5L273.6 144.2L273.6 144.9L273.7 145.6L273.7 146.3L273.7 147.0L273.7 147.7L273.8 148.4L273.8 149.1L273.8 149.8L273.8 150.5L273.9 151.2L273.9 151.9L273.9 152.6L274.0 153.3L274.0 154.0L274.0 154.7L274.1 155.4L274.1 156.1L274.1 156.8L274.1 157.5L274.2 158.2L274.2 158.9L274.2 159.6L274.3 160.3L274.3 161.0L274.3 161.7L274.4 162.4L274.4 163.1L274.4 163.8L274.4 164.5L274.5 165.2L274.5 165.9L274.5 166.6L274.5 167.3L274.6 168.0L274.6 168.7L274.6 169.4L274.6 170.1L274.7 170.8L274.7 171.5L274.7 172.2L274.7 172.9L274.8 173.6L274.8 174.3L274.8 175.0L274.9 175.7L274.9 176.4L274.9 177.1L274.9 177.8L275.0 178.5L275.0 179.2L275.0 179.9L275.0 180.6L275.1 181.3L275.1 182.0L275.1 182.7L275.2 183.4L275.2 184.1L275.2 184.8L275.2 185.5L275.3 186.2L275.3 186.9L275.3 187.6L275.4 188.3L275.4 189.0L275.4 189.7L275.5 190.4L275.5 191.1L275.5 191.8L275.6 192.5L275.6 193.2L275.6 193.9L275.7 194.6L275.7 195.3L275.8 196.0L275.8 196.7L275.8 197.4L275.9 198.1L275.9 198.8L275.9 199.5L276.0 200.1L276.0 200.8L276.1 201.5L276.1 202.2L276.2 202.9L276.2 203.6L276.3 204.3L276.3 205.0L276.4 205.7L276.4 206.4L276.5 207.1L276.5 207.8L276.6 208.5L276.6 209.2L276.7 209.9L276.8 210.6L276.8 211.3L276.9 212.0L277.0 212.7L277.1 213.4L277.2 214.1L277.2 214.8L277.3 215.5L277.4 216.2L277.5 216.9L277.6 217.6L277.7 218.2L277.8 218.9L277.9 219.6L278.0 220.3L278.2 221.0L278.3 221.7L278.4 222.4L278.5 223.1L278.6 223.8L278.7 224.5L278.8 225.2L278.9 225.9L279.0 226.6L279.1 227.3L279.2 228.0L279.3 228.6L279.4 229.3L279.5 230.0L279.6 230.7L279.7 231.4L279.8 232.1L279.9 232.8L280.0 233.5L280.1 234.2L280.2 234.9L280.4 235.6L280.5 236.3L280.6 236.9L280.7 237.6L280.9 238.3L281.0 239.0L281.1 239.7L281.3 240.4L281.4 241.1L281.6 241.7L281.7 242.4L281.9 243.1L282.1 243.8L282.2 244.5L282.4 245.2L282.6 245.8L282.8 246.5L283.0 247.2L283.2 247.8L283.4 248.5L283.6 249.2L283.9 249.8L284.1 250.5L284.3 251.1L284.6 251.8L284.9 252.4L285.2 253.1L285.5 253.7L285.8 254.3L286.1 254.9L286.4 255.6L286.7 256.3L287.0 256.9L287.4 257.6L287.7 258.2L288.1 258.7L288.4 259.2L288.8 259.8L289.1 260.5L289.5 261.1L290.0 261.7L290.4 262.2L290.8 262.9L291.3 263.4L291.8 263.8L292.3 264.2L292.8 264.6L293.3 265.0L293.9 265.5L294.4 266.0L295.0 266.7L295.6 267.1L296.2 267.3L296.8 267.4L297.5 267.8L298.1 268.1L298.8 268.3L299.4 268.5L300.1 268.8L300.8 268.9L301.5 269.1L302.1 269.3L302.8 269.6L303.5 269.8L304.1 270.1L304.8 270.5L305.5 270.8L306.2 270.7L306.8 270.7L307.5 270.7L308.2 270.8L308.9 270.9L309.6 270.7L310.3 271.1L311.0 271.3L311.7 271.6L312.4 271.5L313.1 271.4L313.8 271.4L314.5 271.5L315.2 271.5L315.9 271.7L316.6 271.6L317.3 271.6L318.0 271.7L318.7 271.7L319.4 271.9L320.1 271.7L320.8 271.6L321.5 271.6L322.2 271.5L322.9 271.9L323.6 271.7L324.3 271.7L325.0 271.6L325.7 271.8L326.4 272.0L327.1 271.9L327.8 272.0L328.5 271.8L329.2 271.9L329.9 271.8L330.6 271.9L331.3 272.0L332.0 272.1L332.7 272.2L333.4 272.2L334.1 272.1L334.8 271.9L335.5 271.8L336.2 272.0L336.9 272.1L337.6 272.0L338.3 272.1L339.0 272.1L339.7 272.3L340.4 272.1L341.1 272.1L341.8 272.0L342.5 272.2L343.2 272.2L343.9 272.3L344.6 272.3L345.3 272.4L346.0 272.1L346.7 272.1L347.4 272.0L348.1 272.1L348.8 272.2L349.5 272.1L350.2 272.2L350.9 272.1L351.6 272.2L352.3 272.2L353.0 272.3L353.7 272.3L354.4 272.5L355.1 272.5L355.8 272.4L356.5 272.3L357.2 272.4L357.9 272.6L358.6 272.7L359.3 272.5L360.0 272.5L360.7 272.5L361.4 272.6L362.1 272.5L362.8 272.1L363.5 272.1L364.2 272.2L364.9 272.3L365.6 272.3L366.3 272.2L367.0 272.4L367.7 272.6L368.4 272.4L369.1 272.4L369.8 272.3L370.5 272.3L371.2 272.3L371.9 272.4L372.6 272.7L373.3 272.7L374.0 272.3L374.7 272.2L375.4 272.2L376.1 272.4L376.8 272.4L377.5 272.6L378.2 272.7L378.9 272.6L379.6 272.3L380.3 272.3L381.0 272.4L381.7 272.3L382.4 272.4L383.1 272.5L383.8 272.4L384.5 272.3L385.2 272.3L385.9 272.4L386.6 272.5L387.3 272.5L388.0 272.5L388.7 272.4L389.4 272.5L390.1 272.8L390.8 272.7L391.5 272.6L392.2 272.4L392.9 272.3L393.6 272.3L394.3 272.3L395.0 272.5L395.7 272.5L396.4 272.5L397.1 272.4L397.8 272.4L398.5 272.5L399.2 272.5L399.9 272.5L400.6 272.3L401.3 272.2L402.0 272.3L402.7 272.6L403.4 272.7L404.1 272.6L404.8 272.3L405.5 272.3L406.2 272.4L406.9 272.4L407.7 272.4L408.4 272.4L409.1 272.5L409.8 272.4L410.5 272.4L411.2 272.2L411.9 272.4L412.6 272.4L413.3 272.4L414.0 272.4L414.6 272.5L415.3 272.6L416.0 272.7L416.7 272.5L417.4 272.5L418.1 272.4L418.8 272.3L419.5 272.4L420.2 272.3L420.9 272.5L421.6 272.3L422.3 272.3L423.0 272.2L423.7 272.2L424.4 272.2L425.1 272.2L425.8 272.4L426.5 272.3L427.2 272.3L427.9 272.0L428.6 271.9L429.2 271.9L429.9 271.8L430.6 271.7L431.3 271.5L432.0 271.3L432.7 271.4L433.4 271.5L434.1 271.5L434.8 271.2L435.5 271.3L436.2 271.5L436.9 271.7L437.6 271.5L438.3 271.4L439.0 271.2L439.7 271.2L440.4 271.2L441.1 271.2L441.8 271.1L442.5 271.1L443.2 271.2L443.9 271.3L444.6 271.3L445.3 271.1L446.0 271.1L446.7 271.1L447.4 271.2L448.1 271.0L448.8 271.1L449.5 271.1L450.2 271.3L450.9 271.2L451.6 271.4L452.3 271.3L453.0 271.2L453.7 271.1L454.4 271.1L455.1 271.3L455.8 271.2L456.5 271.2L457.2 271.2L457.9 271.4L458.6 271.5L459.3 271.5L460.0 271.4L460.7 271.4L461.4 271.4L462.1 271.3L462.8 271.3L463.5 271.2L464.2 271.4L464.9 271.3L465.6 271.3L466.3 271.0L467.0 271.0L467.7 271.1L468.4 271.0L469.1 270.8L469.8 270.8L470.5 270.7L471.2 270.9L471.9 270.9L472.6 271.1L473.3 271.3L474.0 271.3L474.7 271.1L475.4 270.8L476.1 270.7L476.8 270.8L477.5 270.7L478.2 270.7L478.9 270.7L479.6 271.0L480.3 270.9L481.0 270.9L481.7 270.8L482.4 270.8L483.1 270.6L483.8 270.7L484.5 270.8L485.2 271.0L485.9 271.0L486.6 270.8L487.3 270.9L488.0 270.8L488.7 271.0L489.4 270.8L490.1 270.8L490.8 270.8L491.5 270.8L492.2 270.9L492.9 270.8L493.6 270.8L494.3 270.8L495.0 270.8L495.7 270.7L496.4 270.8L497.1 270.7L497.8 270.6L498.5 270.5L499.2 270.5L499.9 270.6L500.6 270.8L501.3 270.7L502.0 270.7L502.7 270.4L503.4 270.4L504.1 270.4L504.8 270.4L505.5 270.3L506.2 270.3L506.4 270.5" fill="none" stroke="#0070c0" stroke-width="2.1" stroke-linejoin="round" stroke-linecap="butt"/>
<path d="M273.2 87.0L273.2 87.7L273.2 88.4L273.2 89.1L273.2 89.8L273.2 90.5L273.2 91.2L273.2 91.9L273.2 92.6L273.2 93.3L273.2 94.0L273.2 94.7L273.2 95.4L273.2 96.1L273.2 96.8L273.2 97.5L273.2 98.2L273.2 98.9L273.2 99.6L273.2 100.3L273.2 101.0L273.2 101.7L273.2 102.4L273.2 103.1L273.2 103.8L273.2 104.5L273.2 105.2L273.2 105.9L273.2 106.6L273.2 107.3L273.3 108.0L273.3 108.7L273.3 109.4L273.3 110.1L273.3 110.8L273.3 111.5L273.3 112.2L273.3 112.9L273.3 113.6L273.3 114.3L273.3 115.0L273.3 115.7L273.3 116.4L273.3 117.1L273.3 117.8L273.3 118.5L273.3 119.2L273.3 119.9L273.3 120.6L273.3 121.3L273.3 122.0L273.3 122.7L273.3 123.4L273.4 124.1L273.4 124.8L273.4 125.5L273.4 126.2L273.4 126.9L273.4 127.6L273.4 128.3L273.4 129.0L273.4 129.7L273.4 130.4L273.4 131.1L273.4 131.8L273.4 132.5L273.4 133.2L273.5 133.9L273.5 134.6L273.5 135.3L273.5 136.0L273.5 136.7L273.5 137.4L273.6 138.1L273.6 138.8L273.6 139.5L273.6 140.2L273.6 140.9L273.7 141.6L273.7 142.3L273.7 143.0L273.7 143.7L273.8 144.4L273.8 145.1L273.8 145.8L273.8 146.5L273.9 147.2L273.9 147.9L273.9 148.6L274.0 149.3L274.0 150.0L274.0 150.7L274.0 151.4L274.1 152.1L274.1 152.8L274.1 153.5L274.2 154.2L274.2 154.9L274.2 155.6L274.3 156.3L274.3 157.0L274.3 157.7L274.4 158.4L274.4 159.1L274.4 159.8L274.5 160.5L274.5 161.2L274.5 161.9L274.5 162.6L274.6 163.3L274.6 164.0L274.6 164.7L274.7 165.4L274.7 166.1L274.7 166.8L274.8 167.5L274.8 168.2L274.8 168.9L274.8 169.6L274.9 170.3L274.9 171.0L274.9 171.7L274.9 172.4L275.0 173.1L275.0 173.8L275.0 174.5L275.0 175.2L275.1 175.9L275.1 176.6L275.1 177.3L275.2 178.0L275.2 178.7L275.2 179.4L275.2 180.1L275.3 180.8L275.3 181.5L275.3 182.2L275.4 182.9L275.4 183.6L275.4 184.3L275.4 185.0L275.5 185.7L275.5 186.4L275.5 187.1L275.6 187.8L275.6 188.5L275.7 189.2L275.7 189.9L275.7 190.6L275.8 191.3L275.8 192.0L275.9 192.7L275.9 193.4L275.9 194.0L276.0 194.7L276.0 195.4L276.1 196.1L276.1 196.8L276.2 197.5L276.3 198.2L276.3 198.9L276.4 199.6L276.5 200.3L276.5 201.0L276.6 201.7L276.7 202.4L276.8 203.1L276.8 203.8L276.9 204.5L277.0 205.2L277.1 205.9L277.2 206.6L277.3 207.3L277.3 208.0L277.4 208.7L277.5 209.4L277.6 210.1L277.7 210.8L277.8 211.4L277.9 212.1L278.0 212.8L278.1 213.5L278.2 214.2L278.3 214.9L278.4 215.6L278.5 216.3L278.6 217.0L278.7 217.7L278.8 218.4L278.9 219.1L279.0 219.8L279.1 220.4L279.3 221.1L279.4 221.8L279.5 222.5L279.6 223.2L279.7 223.9L279.9 224.6L280.0 225.3L280.1 226.0L280.2 226.6L280.4 227.3L280.5 228.0L280.7 228.7L280.8 229.4L280.9 230.1L281.1 230.8L281.2 231.5L281.4 232.1L281.5 232.8L281.7 233.5L281.9 234.2L282.0 234.9L282.2 235.6L282.4 236.2L282.6 236.9L282.8 237.6L283.0 238.2L283.2 238.9L283.4 239.5L283.7 240.2L283.9 240.9L284.2 241.5L284.4 242.2L284.7 242.9L285.0 243.5L285.2 244.1L285.5 244.8L285.8 245.4L286.1 246.0L286.4 246.7L286.8 247.2L287.1 247.9L287.4 248.5L287.8 249.2L288.1 249.7L288.5 250.3L288.9 250.9L289.3 251.5L289.7 252.1L290.1 252.6L290.5 253.2L291.0 253.8L291.4 254.4L291.8 254.8L292.3 255.3L292.8 255.8L293.2 256.5L293.7 257.0L294.2 257.5L294.7 258.0L295.2 258.4L295.8 258.9L296.3 259.3L296.9 259.6L297.5 260.0L298.1 260.4L298.7 260.9L299.3 261.0L299.9 261.3L300.6 261.7L301.2 261.9L301.9 262.0L302.6 262.1L303.3 262.1L304.0 262.2L304.7 262.3L305.4 262.5L306.0 262.8L306.7 262.9L307.4 263.2L308.1 263.3L308.8 263.5L309.5 263.5L310.2 263.8L310.9 264.0L311.5 264.3L312.2 264.4L312.9 264.2L313.6 264.1L314.3 264.1L315.0 264.5L315.7 264.5L316.4 264.7L317.1 264.8L317.8 264.9L318.5 264.8L319.2 264.7L319.9 264.8L320.6 264.8L321.3 264.8L322.0 264.8L322.7 264.7L323.4 264.8L324.1 264.8L324.8 265.0L325.5 264.9L326.2 265.2L326.9 265.2L327.6 265.2L328.3 265.1L329.0 265.1L329.7 265.2L330.4 265.1L331.1 265.0L331.8 265.2L332.5 265.2L333.2 265.3L333.9 265.1L334.6 265.2L335.3 265.1L336.0 265.1L336.7 265.2L337.4 265.3L338.1 265.3L338.8 265.3L339.5 265.1L340.2 265.3L340.9 265.2L341.6 265.4L342.3 265.4L343.0 265.5L343.7 265.4L344.4 265.4L345.1 265.4L345.8 265.6L346.5 265.4L347.2 265.5L347.9 265.3L348.6 265.4L349.3 265.3L350.0 265.3L350.7 265.1L351.4 265.0L352.1 265.1L352.8 265.1L353.5 265.3L354.2 265.2L354.9 265.4L355.6 265.3L356.3 265.4L357.0 265.3L357.7 265.3L358.4 265.2L359.1 265.3L359.8 265.5L360.5 265.6L361.2 265.6L361.9 265.4L362.6 265.2L363.3 265.2L364.0 265.3L364.7 265.4L365.4 265.4L366.1 265.5L366.8 265.5L367.5 265.5L368.2 265.4L368.9 265.3L369.6 265.1L370.3 265.1L371.0 265.3L371.7 265.2L372.4 265.2L373.1 265.1L373.8 265.2L374.5 265.2L375.2 265.4L375.9 265.5L376.6 265.5L377.3 265.4L378.0 265.4L378.7 265.4L379.4 265.5L380.1 265.2L380.8 265.2L381.5 265.1L382.2 265.4L382.9 265.4L383.6 265.4L384.3 265.3L385.0 265.4L385.7 265.2L386.4 265.1L387.1 265.0L387.8 265.2L388.5 265.2L389.2 265.5L389.9 265.4L390.6 265.4L391.3 265.2L392.0 265.1L392.7 265.2L393.4 265.4L394.1 265.5L394.8 265.5L395.5 265.3L396.2 265.3L396.9 265.5L397.6 265.4L398.3 265.5L399.0 265.4L399.7 265.4L400.4 265.1L401.1 264.9L401.8 265.2L402.5 265.3L403.2 265.4L403.9 265.3L404.6 265.4L405.3 265.4L406.0 265.3L406.7 265.4L407.4 265.3L408.1 265.5L408.8 265.4L409.5 265.4L410.2 265.3L410.9 265.3L411.6 265.2L412.3 265.2L413.0 265.0L413.7 265.1L414.4 265.2L415.1 265.2L415.8 265.3L416.5 265.2L417.2 265.5L417.9 265.5L418.6 265.4L419.3 265.1L420.0 265.0L420.7 265.1L421.4 265.2L422.1 265.4L422.8 265.4L423.5 265.4L424.2 265.4L424.9 265.3L425.6 265.3L426.3 265.4L427.0 265.4L427.7 265.3L428.4 265.1L429.1 264.9L429.8 265.0L430.5 264.9L431.2 264.9L431.9 264.9L432.6 265.1L433.3 265.0L434.0 265.1L434.7 265.3L435.4 265.3L436.1 265.3L436.8 265.2L437.5 265.1L438.2 265.2L438.9 265.0L439.6 265.1L440.3 264.7L441.0 264.8L441.7 264.6L442.4 264.7L443.1 264.8L443.8 264.9L444.5 264.9L445.2 264.9L445.9 264.8L446.6 264.9L447.3 264.7L448.0 264.7L448.7 264.6L449.4 264.7L450.1 264.6L450.8 264.5L451.5 264.4L452.2 264.5L452.9 264.5L453.6 264.4L454.3 264.3L455.0 264.2L455.7 264.3L456.4 264.4L457.1 264.4L457.8 264.4L458.5 264.3L459.2 264.2L459.9 264.0L460.6 263.9L461.3 263.9L462.0 264.0L462.7 263.9L463.4 264.1L464.1 264.1L464.8 264.2L465.5 264.1L466.2 264.0L466.9 263.9L467.6 263.9L468.3 264.0L469.0 264.2L469.7 264.4L470.4 264.3L471.1 264.3L471.8 264.1L472.5 264.0L473.2 263.9L473.9 263.9L474.6 264.0L475.3 263.9L476.0 263.9L476.7 263.8L477.4 263.9L478.1 263.8L478.8 263.7L479.5 263.7L480.2 263.6L480.9 263.6L481.6 263.6L482.3 263.7L483.0 263.7L483.7 263.6L484.4 263.7L485.1 263.6L485.8 263.7L486.5 263.6L487.2 263.7L487.9 263.5L488.6 263.5L489.3 263.3L490.0 263.4L490.7 263.6L491.4 263.7L492.1 263.6L492.8 263.6L493.5 263.3L494.2 263.1L494.9 263.0L495.6 263.1L496.3 263.1L497.0 263.0L497.7 263.1L498.4 263.2L499.1 263.2L499.8 263.3L500.5 263.4L501.2 263.5L501.9 263.3L502.6 263.2L503.3 263.4L504.0 263.2L504.7 263.1L505.4 262.9L506.1 263.0L506.4 263.1" fill="none" stroke="#ff0000" stroke-width="2.1" stroke-linejoin="round" stroke-linecap="butt"/>
<path d="M273.3 76.0L273.3 76.7L273.3 77.4L273.3 78.1L273.3 78.8L273.3 79.5L273.3 80.2L273.3 80.9L273.3 81.6L273.3 82.3L273.3 83.0L273.3 83.7L273.3 84.4L273.3 85.1L273.3 85.8L273.3 86.5L273.3 87.2L273.3 87.9L273.3 88.6L273.3 89.3L273.3 90.0L273.3 90.7L273.3 91.4L273.3 92.1L273.3 92.8L273.3 93.5L273.4 94.2L273.4 94.9L273.4 95.6L273.4 96.3L273.4 97.0L273.4 97.7L273.4 98.4L273.4 99.1L273.4 99.8L273.4 100.5L273.4 101.2L273.4 101.9L273.4 102.6L273.4 103.3L273.4 104.0L273.4 104.7L273.4 105.4L273.4 106.1L273.4 106.8L273.4 107.5L273.5 108.2L273.5 108.9L273.5 109.6L273.5 110.3L273.5 111.0L273.5 111.7L273.5 112.4L273.5 113.1L273.5 113.8L273.5 114.5L273.5 115.2L273.5 115.9L273.5 116.6L273.5 117.3L273.6 118.0L273.6 118.7L273.6 119.4L273.6 120.1L273.6 120.8L273.6 121.5L273.6 122.2L273.6 122.9L273.6 123.6L273.6 124.3L273.6 125.0L273.6 125.7L273.7 126.4L273.7 127.1L273.7 127.8L273.7 128.5L273.7 129.2L273.7 129.9L273.7 130.6L273.7 131.3L273.7 132.0L273.7 132.7L273.8 133.4L273.8 134.1L273.8 134.8L273.8 135.5L273.8 136.2L273.8 136.9L273.9 137.6L273.9 138.3L273.9 139.0L273.9 139.7L274.0 140.4L274.0 141.1L274.0 141.8L274.0 142.5L274.1 143.2L274.1 143.9L274.1 144.6L274.1 145.3L274.2 146.0L274.2 146.7L274.2 147.4L274.3 148.1L274.3 148.8L274.3 149.5L274.3 150.2L274.4 150.9L274.4 151.6L274.4 152.3L274.5 153.0L274.5 153.7L274.5 154.4L274.6 155.1L274.6 155.8L274.6 156.5L274.7 157.2L274.7 157.9L274.7 158.6L274.8 159.3L274.8 160.0L274.8 160.7L274.9 161.4L274.9 162.1L274.9 162.8L275.0 163.5L275.0 164.2L275.0 164.9L275.1 165.6L275.1 166.3L275.1 167.0L275.2 167.7L275.2 168.4L275.2 169.1L275.3 169.8L275.3 170.5L275.3 171.2L275.3 171.9L275.4 172.6L275.4 173.3L275.4 174.0L275.5 174.7L275.5 175.4L275.5 176.1L275.5 176.8L275.6 177.5L275.6 178.2L275.6 178.9L275.7 179.6L275.7 180.3L275.7 181.0L275.8 181.7L275.8 182.4L275.8 183.1L275.9 183.8L275.9 184.5L275.9 185.2L276.0 185.9L276.0 186.6L276.1 187.3L276.1 188.0L276.1 188.7L276.2 189.4L276.2 190.1L276.3 190.8L276.3 191.5L276.4 192.1L276.4 192.8L276.5 193.5L276.5 194.2L276.6 194.9L276.7 195.6L276.7 196.3L276.8 197.0L276.9 197.7L277.0 198.4L277.1 199.1L277.2 199.8L277.3 200.5L277.4 201.2L277.5 201.9L277.6 202.6L277.7 203.3L277.9 203.9L278.0 204.6L278.1 205.3L278.2 206.0L278.4 206.7L278.5 207.4L278.6 208.1L278.7 208.8L278.9 209.4L279.0 210.1L279.2 210.8L279.3 211.5L279.4 212.2L279.6 212.9L279.7 213.6L279.9 214.2L280.1 214.9L280.2 215.6L280.4 216.3L280.5 217.0L280.7 217.6L280.8 218.3L281.0 219.0L281.2 219.7L281.3 220.4L281.5 221.1L281.7 221.7L281.8 222.4L282.0 223.1L282.2 223.8L282.3 224.5L282.5 225.1L282.7 225.8L282.8 226.5L283.0 227.2L283.2 227.9L283.4 228.5L283.5 229.2L283.7 229.9L283.9 230.6L284.1 231.3L284.3 231.9L284.4 232.6L284.6 233.3L284.8 234.0L285.0 234.6L285.1 235.3L285.3 236.0L285.5 236.7L285.7 237.3L285.9 238.0L286.1 238.7L286.2 239.4L286.4 240.1L286.6 240.7L286.8 241.4L287.0 242.1L287.2 242.7L287.4 243.4L287.7 244.1L287.9 244.7L288.1 245.4L288.3 246.1L288.6 246.7L288.8 247.4L289.1 248.0L289.4 248.7L289.6 249.3L289.9 249.9L290.2 250.6L290.5 251.2L290.8 251.9L291.1 252.5L291.5 253.1L291.8 253.7L292.1 254.3L292.5 254.9L292.8 255.6L293.2 256.1L293.6 256.7L294.0 257.2L294.4 257.8L294.8 258.4L295.3 259.0L295.7 259.5L296.2 260.1L296.6 260.6L297.1 261.0L297.6 261.5L298.1 261.8L298.7 262.4L299.2 262.9L299.8 263.4L300.3 263.8L300.9 264.2L301.5 264.6L302.0 264.9L302.6 265.1L303.3 265.5L303.9 266.0L304.5 266.4L305.1 266.7L305.8 266.9L306.4 267.3L307.0 267.6L307.6 268.0L308.3 268.1L308.9 268.4L309.5 268.8L310.2 269.2L310.8 269.6L311.4 269.8L312.0 270.0L312.7 270.3L313.3 270.6L314.0 271.0L314.6 271.2L315.3 271.4L315.9 271.7L316.6 271.9L317.2 272.1L317.9 272.1L318.6 272.3L319.3 272.4L319.9 272.7L320.6 272.9L321.3 273.1L322.0 273.4L322.7 273.6L323.4 273.8L324.1 273.7L324.8 273.6L325.5 273.8L326.2 274.0L326.9 274.0L327.6 273.9L328.2 274.0L328.9 274.2L329.6 274.3L330.3 274.2L331.0 274.2L331.7 274.1L332.4 274.2L333.1 274.1L333.8 274.1L334.5 274.0L335.2 274.3L335.9 274.5L336.6 274.8L337.4 274.7L338.1 274.6L338.8 274.5L339.5 274.4L340.2 274.5L340.9 274.3L341.6 274.3L342.3 274.3L343.0 274.5L343.7 274.6L344.4 274.8L345.1 274.9L345.8 274.7L346.5 274.5L347.2 274.2L347.9 274.3L348.6 274.2L349.3 274.3L350.0 274.4L350.7 274.6L351.4 274.6L352.1 274.5L352.8 274.4L353.5 274.4L354.2 274.5L354.9 274.5L355.6 274.5L356.3 274.3L357.0 274.4L357.7 274.5L358.4 274.6L359.1 274.4L359.8 274.4L360.5 274.4L361.2 274.2L361.9 274.1L362.6 274.2L363.3 274.5L364.0 274.6L364.7 274.6L365.4 274.6L366.1 274.3L366.8 274.1L367.5 274.1L368.2 274.4L368.9 274.4L369.6 274.3L370.3 274.3L371.0 274.2L371.7 274.1L372.4 274.0L373.1 274.2L373.8 274.4L374.5 274.2L375.2 274.1L375.9 274.1L376.6 274.3L377.3 274.3L378.0 274.5L378.7 274.5L379.4 274.4L380.1 274.5L380.8 274.5L381.5 274.6L382.2 274.7L382.9 274.5L383.6 274.5L384.3 274.4L385.0 274.4L385.7 274.3L386.4 274.3L387.1 274.3L387.8 274.3L388.5 274.5L389.2 274.5L389.9 274.5L390.6 274.2L391.3 274.3L392.0 274.4L392.7 274.6L393.4 274.6L394.1 274.5L394.8 274.3L395.5 274.3L396.2 274.2L396.9 274.2L397.6 274.2L398.3 274.3L399.0 274.6L399.7 274.3L400.4 274.5L401.1 274.2L401.8 274.3L402.5 274.2L403.2 274.3L403.9 274.3L404.6 274.3L405.3 274.4L406.0 274.5L406.7 274.5L407.4 274.6L408.1 274.4L408.8 274.5L409.5 274.6L410.2 274.4L410.9 274.3L411.6 274.0L412.3 274.1L413.0 274.2L413.7 274.7L414.4 274.8L415.1 274.9L415.8 274.7L416.5 274.6L417.2 274.5L417.9 274.6L418.6 274.6L419.3 274.6L420.0 274.5L420.7 274.3L421.4 274.2L422.1 274.2L422.8 274.4L423.5 274.4L424.2 274.3L424.9 274.3L425.6 274.3L426.3 274.4L427.0 274.4L427.7 274.4L428.4 274.2L429.1 274.1L429.8 274.1L430.5 274.1L431.2 274.2L431.9 274.1L432.6 274.2L433.3 274.2L434.0 274.2L434.7 274.2L435.4 274.1L436.1 274.1L436.8 274.4L437.5 274.3L438.2 274.3L438.9 274.0L439.6 274.3L440.3 274.2L441.0 274.0L441.7 274.0L442.4 273.9L443.1 274.1L443.8 273.9L444.5 273.9L445.2 273.8L445.9 274.0L446.6 274.2L447.3 274.1L448.0 274.1L448.7 274.0L449.4 274.0L450.1 274.0L450.8 274.1L451.5 274.0L452.2 273.9L452.9 273.9L453.6 273.9L454.3 273.9L455.0 274.0L455.7 273.9L456.3 274.0L457.0 273.9L457.7 274.0L458.4 273.7L459.1 273.9L459.8 273.7L460.5 273.8L461.2 273.6L461.9 273.8L462.6 273.9L463.3 273.8L464.0 273.5L464.7 273.5L465.4 273.5L466.1 273.5L466.8 273.3L467.5 273.6L468.2 273.6L468.9 273.7L469.6 273.4L470.3 273.4L471.0 273.3L471.7 273.4L472.4 273.3L473.1 273.3L473.8 273.2L474.5 273.3L475.2 273.3L475.9 273.2L476.6 273.2L477.3 273.1L478.0 273.0L478.7 273.0L479.4 272.9L480.1 272.9L480.8 272.8L481.5 272.9L482.2 272.9L482.9 272.9L483.6 273.0L484.3 273.1L485.0 273.3L485.7 273.1L486.4 273.0L487.1 272.9L487.8 273.0L488.5 272.8L489.2 272.8L489.9 272.9L490.6 273.0L491.3 273.0L492.0 272.7L492.7 272.6L493.4 272.7L494.1 272.9L494.8 272.9L495.5 272.8L496.2 272.6L496.9 272.6L497.6 272.6L498.3 272.7L499.0 272.6L499.7 272.5L500.4 272.5L501.1 272.6L501.8 272.8L502.5 272.6L503.2 272.5L503.9 272.5L504.6 272.5L505.3 272.4L506.0 272.4L506.4 272.4" fill="none" stroke="#00b050" stroke-width="2.1" stroke-linejoin="round" stroke-linecap="butt"/>
<path d="M273.2 68.8L273.2 69.5L273.2 70.2L273.2 70.9L273.2 71.6L273.2 72.3L273.2 73.0L273.2 73.7L273.2 74.4L273.2 75.1L273.2 75.8L273.2 76.5L273.2 77.2L273.2 77.9L273.2 78.6L273.2 79.3L273.2 80.0L273.2 80.7L273.2 81.4L273.2 82.1L273.2 82.8L273.2 83.5L273.2 84.2L273.2 84.9L273.2 85.6L273.2 86.3L273.2 87.0L273.2 87.7L273.2 88.4L273.2 89.1L273.2 89.8L273.2 90.5L273.2 91.2L273.2 91.9L273.2 92.6L273.2 93.3L273.2 94.0L273.2 94.7L273.2 95.4L273.2 96.1L273.2 96.8L273.2 97.5L273.2 98.2L273.2 98.9L273.3 99.6L273.3 100.3L273.3 101.0L273.3 101.7L273.3 102.4L273.3 103.1L273.3 103.8L273.3 104.5L273.3 105.2L273.3 105.9L273.3 106.6L273.3 107.3L273.3 108.0L273.3 108.7L273.3 109.4L273.3 110.1L273.3 110.8L273.3 111.5L273.3 112.2L273.3 112.9L273.3 113.6L273.3 114.3L273.3 115.0L273.3 115.7L273.3 116.4L273.3 117.1L273.3 117.8L273.3 118.5L273.3 119.2L273.3 119.9L273.3 120.6L273.3 121.3L273.4 122.0L273.4 122.7L273.4 123.4L273.4 124.1L273.4 124.8L273.4 125.5L273.4 126.2L273.4 126.9L273.4 127.6L273.4 128.3L273.4 129.0L273.4 129.7L273.4 130.4L273.4 131.1L273.4 131.8L273.4 132.5L273.4 133.2L273.4 133.9L273.5 134.6L273.5 135.3L273.5 136.0L273.5 136.7L273.5 137.4L273.5 138.1L273.6 138.8L273.6 139.5L273.6 140.2L273.6 140.9L273.6 141.6L273.7 142.3L273.7 143.0L273.7 143.7L273.7 144.4L273.8 145.1L273.8 145.8L273.8 146.5L273.9 147.2L273.9 147.9L273.9 148.6L273.9 149.3L274.0 150.0L274.0 150.7L274.0 151.4L274.1 152.1L274.1 152.8L274.1 153.5L274.2 154.2L274.2 154.9L274.2 155.6L274.3 156.3L274.3 157.0L274.3 157.7L274.4 158.4L274.4 159.1L274.4 159.8L274.5 160.5L274.5 161.2L274.5 161.9L274.5 162.6L274.6 163.3L274.6 164.0L274.6 164.7L274.7 165.4L274.7 166.1L274.7 166.8L274.8 167.5L274.8 168.2L274.8 168.9L274.8 169.6L274.9 170.3L274.9 171.0L274.9 171.7L274.9 172.4L275.0 173.1L275.0 173.8L275.0 174.5L275.0 175.2L275.1 175.9L275.1 176.6L275.1 177.3L275.2 178.0L275.2 178.7L275.2 179.4L275.2 180.1L275.3 180.8L275.3 181.5L275.3 182.2L275.4 182.9L275.4 183.6L275.4 184.3L275.5 185.0L275.5 185.7L275.5 186.4L275.6 187.1L275.6 187.8L275.6 188.5L275.7 189.2L275.7 189.9L275.7 190.6L275.8 191.3L275.8 192.0L275.9 192.7L275.9 193.4L275.9 194.0L276.0 194.7L276.0 195.4L276.1 196.1L276.1 196.8L276.2 197.5L276.2 198.2L276.3 198.9L276.4 199.6L276.4 200.3L276.5 201.0L276.6 201.7L276.6 202.4L276.7 203.1L276.8 203.8L276.8 204.5L276.9 205.2L277.0 205.9L277.1 206.6L277.2 207.3L277.3 208.0L277.3 208.7L277.4 209.4L277.5 210.1L277.6 210.8L277.7 211.5L277.8 212.1L277.9 212.8L278.0 213.5L278.1 214.2L278.2 214.9L278.3 215.6L278.5 216.3L278.6 217.0L278.7 217.7L278.8 218.4L278.9 219.1L279.1 219.7L279.2 220.4L279.3 221.1L279.5 221.8L279.6 222.5L279.7 223.2L279.9 223.9L280.0 224.6L280.1 225.2L280.3 225.9L280.4 226.6L280.6 227.3L280.7 228.0L280.9 228.7L281.0 229.4L281.2 230.0L281.3 230.7L281.5 231.4L281.6 232.1L281.8 232.8L282.0 233.4L282.1 234.1L282.3 234.8L282.5 235.5L282.7 236.1L282.9 236.8L283.1 237.5L283.3 238.2L283.5 238.8L283.7 239.5L283.9 240.2L284.2 240.8L284.4 241.5L284.7 242.1L284.9 242.8L285.2 243.4L285.4 244.0L285.7 244.7L286.0 245.4L286.3 246.0L286.6 246.7L286.9 247.3L287.2 248.0L287.5 248.6L287.8 249.2L288.2 249.8L288.5 250.4L288.8 251.0L289.1 251.7L289.5 252.3L289.8 252.8L290.1 253.5L290.5 254.1L290.8 254.7L291.2 255.3L291.6 255.9L291.9 256.5L292.3 257.1L292.7 257.7L293.1 258.2L293.5 258.8L293.9 259.3L294.4 260.0L294.8 260.6L295.3 261.0L295.7 261.5L296.2 262.0L296.6 262.6L297.1 263.2L297.6 263.6L298.2 264.0L298.7 264.4L299.2 264.9L299.8 265.3L300.3 265.9L300.9 266.3L301.5 266.8L302.0 266.9L302.6 267.2L303.3 267.6L303.9 268.0L304.5 268.3L305.1 268.6L305.7 269.1L306.4 269.4L307.0 269.7L307.6 269.9L308.3 270.2L308.9 270.5L309.5 270.8L310.2 271.1L310.8 271.5L311.5 271.5L312.1 271.9L312.8 272.1L313.5 272.5L314.1 272.7L314.8 273.0L315.4 273.3L316.1 273.4L316.8 273.6L317.4 273.6L318.1 273.9L318.8 274.0L319.5 274.2L320.1 274.3L320.8 274.6L321.5 274.8L322.2 274.9L322.9 275.2L323.6 275.4L324.2 275.9L324.9 275.8L325.6 275.7L326.3 275.6L327.0 275.6L327.7 275.7L328.4 275.7L329.1 275.8L329.8 275.8L330.5 275.9L331.2 276.1L331.9 276.2L332.6 276.1L333.3 276.0L334.0 275.9L334.7 276.0L335.4 275.8L336.1 275.9L336.8 276.0L337.5 276.1L338.2 276.1L338.9 275.9L339.6 275.9L340.3 276.1L341.0 276.1L341.7 276.0L342.4 275.9L343.1 275.9L343.8 276.0L344.5 276.0L345.2 276.2L345.9 276.2L346.6 276.0L347.3 275.9L348.0 275.9L348.7 276.0L349.4 276.2L350.1 276.3L350.8 276.3L351.5 276.1L352.2 276.1L352.9 276.0L353.6 276.0L354.3 275.9L355.0 276.0L355.7 275.9L356.4 276.0L357.1 275.9L357.8 276.0L358.5 275.9L359.2 276.0L359.9 276.0L360.6 276.1L361.3 276.1L362.0 276.2L362.7 276.1L363.4 276.0L364.1 276.0L364.8 276.1L365.5 276.2L366.2 276.3L366.9 276.3L367.6 276.2L368.3 276.3L369.0 276.2L369.7 276.2L370.4 276.2L371.1 276.0L371.8 276.2L372.5 276.0L373.2 276.2L373.9 276.3L374.6 276.4L375.3 276.3L376.0 276.2L376.7 276.1L377.4 276.0L378.1 275.9L378.8 276.0L379.5 276.1L380.2 276.1L380.9 276.1L381.6 276.1L382.3 276.2L383.0 276.1L383.7 276.2L384.4 276.1L385.1 276.2L385.8 276.3L386.5 276.2L387.2 276.2L387.9 276.0L388.6 276.2L389.3 276.2L390.0 276.1L390.7 276.0L391.4 276.0L392.1 276.1L392.8 276.2L393.5 276.1L394.2 276.0L394.9 276.0L395.6 276.1L396.3 276.2L397.0 276.2L397.7 276.1L398.4 275.8L399.1 275.9L399.8 276.1L400.5 276.2L401.2 276.1L401.9 276.0L402.6 276.2L403.3 276.3L404.0 276.4L404.7 276.3L405.4 276.3L406.1 276.2L406.8 276.2L407.5 276.3L408.2 276.3L408.9 276.4L409.6 276.3L410.3 276.3L411.0 276.1L411.7 276.2L412.4 275.9L413.1 275.9L413.8 275.9L414.5 276.1L415.2 276.2L415.9 276.0L416.6 276.2L417.3 276.2L418.0 276.4L418.7 276.3L419.4 276.2L420.1 276.4L420.8 276.3L421.5 276.2L422.2 276.0L422.9 276.1L423.6 276.3L424.3 276.3L425.0 276.2L425.7 276.2L426.4 276.3L427.1 276.1L427.8 276.0L428.5 276.0L429.2 276.1L429.9 276.2L430.6 276.3L431.3 276.3L432.0 276.3L432.7 276.0L433.4 276.0L434.1 275.9L434.8 275.8L435.5 275.7L436.2 275.8L436.9 275.9L437.6 276.2L438.3 276.1L439.0 276.1L439.7 276.0L440.4 276.1L441.1 276.0L441.8 276.0L442.5 275.8L443.2 275.9L443.9 276.0L444.6 276.1L445.3 276.2L446.0 276.0L446.7 276.0L447.4 275.8L448.1 275.9L448.8 275.8L449.5 275.7L450.2 275.6L450.9 275.6L451.6 275.6L452.3 275.6L453.0 275.6L453.7 275.6L454.4 275.4L455.1 275.5L455.8 275.5L456.5 275.6L457.2 275.6L457.9 275.8L458.6 275.7L459.3 275.5L460.0 275.3L460.7 275.4L461.4 275.5L462.1 275.4L462.8 275.4L463.5 275.4L464.2 275.5L464.9 275.3L465.6 275.3L466.3 275.3L467.0 275.5L467.7 275.4L468.4 275.3L469.1 275.1L469.8 275.1L470.5 275.2L471.2 275.1L471.9 275.1L472.6 275.0L473.3 275.1L474.0 275.1L474.7 275.0L475.4 275.0L476.1 274.9L476.8 275.0L477.5 275.0L478.2 274.8L478.9 274.8L479.6 274.9L480.3 275.1L481.0 275.2L481.7 275.1L482.4 275.0L483.1 274.8L483.8 274.8L484.5 274.9L485.2 275.1L485.9 275.0L486.6 274.9L487.3 274.9L488.0 274.8L488.7 274.8L489.4 274.8L490.1 274.7L490.8 274.6L491.5 274.6L492.2 274.6L492.9 274.5L493.6 274.4L494.3 274.2L495.0 274.6L495.7 274.6L496.4 274.9L497.1 274.6L497.8 274.5L498.5 274.4L499.2 274.4L499.9 274.4L500.6 274.4L501.3 274.5L502.0 274.6L502.7 274.5L503.4 274.2L504.1 274.1L504.8 274.2L505.5 274.4L506.2 274.5L506.4 274.6" fill="none" stroke="#000000" stroke-width="2.1" stroke-linejoin="round" stroke-linecap="butt"/>
<path d="M68.95 25.98H506.40V332.60" fill="none" stroke="#404040" stroke-width="1"/>
<path d="M68.95 25.98V336.90" fill="none" stroke="#484848" stroke-width="1.3"/>
<path d="M64.65 332.60H506.40" fill="none" stroke="#404040" stroke-width="1.1"/>
<path d="M69.00 332.60v4.3M83.58 332.60v3.6M98.16 332.60v3.6M112.74 332.60v3.6M127.32 332.60v3.6M141.90 332.60v4.3M156.48 332.60v3.6M171.06 332.60v3.6M185.64 332.60v3.6M200.22 332.60v3.6M214.80 332.60v4.3M229.38 332.60v3.6M243.96 332.60v3.6M258.54 332.60v3.6M273.12 332.60v3.6M287.70 332.60v4.3M302.28 332.60v3.6M316.86 332.60v3.6M331.44 332.60v3.6M346.02 332.60v3.6M360.60 332.60v4.3M375.18 332.60v3.6M389.76 332.60v3.6M404.34 332.60v3.6M418.92 332.60v3.6M433.50 332.60v4.3M448.08 332.60v3.6M462.66 332.60v3.6M477.24 332.60v3.6M491.82 332.60v3.6M506.40 332.60v4.3M68.95 332.60h-4.3M68.95 304.73h-3.2M68.95 276.85h-4.3M68.95 248.97h-3.2M68.95 221.10h-4.3M68.95 193.22h-3.2M68.95 165.35h-4.3M68.95 137.47h-3.2M68.95 109.60h-4.3M68.95 81.72h-3.2M68.95 53.85h-4.3M68.95 25.98h-3.2" stroke="#404040" stroke-width="1" fill="none"/>
<text x="55.6" y="337.9" font-size="16" text-anchor="end" fill="#000">15</text>
<text x="55.6" y="282.2" font-size="16" text-anchor="end" fill="#000">20</text>
<text x="55.6" y="226.4" font-size="16" text-anchor="end" fill="#000">25</text>
<text x="55.6" y="170.7" font-size="16" text-anchor="end" fill="#000">30</text>
<text x="55.6" y="114.9" font-size="16" text-anchor="end" fill="#000">35</text>
<text x="55.6" y="59.1" font-size="16" text-anchor="end" fill="#000">40</text>
<text x="69.3" y="357.2" font-size="16" text-anchor="middle" fill="#000">0</text>
<text x="142.2" y="357.2" font-size="16" text-anchor="middle" fill="#000">10</text>
<text x="215.1" y="357.2" font-size="16" text-anchor="middle" fill="#000">20</text>
<text x="288.0" y="357.2" font-size="16" text-anchor="middle" fill="#000">30</text>
<text x="360.9" y="357.2" font-size="16" text-anchor="middle" fill="#000">40</text>
<text x="433.8" y="357.2" font-size="16" text-anchor="middle" fill="#000">50</text>
<text x="506.7" y="357.2" font-size="16" text-anchor="middle" fill="#000">60</text>
<text x="290.6" y="378.8" font-size="16" text-anchor="middle" fill="#000">Elapsed time, hrs</text>
<text transform="translate(23.3,205.3) rotate(-90)" font-size="16" text-anchor="middle" fill="#000">Temperature, °C</text>
<rect x="362.8" y="33.6" width="118.4" height="120.2" fill="#fff"/>
<path d="M372.9 42.6H405.6" stroke="#5b9bd5" stroke-width="1.35" stroke-dasharray="5 4" fill="none"/>
<text x="410.7" y="46.6" font-size="12.2" fill="#000">0%C-40G</text>
<path d="M372.9 57.4H405.6" stroke="#ff0000" stroke-width="1.35" stroke-dasharray="5 4" fill="none"/>
<text x="410.7" y="61.4" font-size="12.2" fill="#000">10%C-40G</text>
<path d="M372.9 72.4H405.6" stroke="#00b050" stroke-width="1.35" stroke-dasharray="5 4" fill="none"/>
<text x="410.7" y="76.4" font-size="12.2" fill="#000">20%C-40G</text>
<path d="M372.9 87.2H405.6" stroke="#7030a0" stroke-width="1.35" stroke-dasharray="5 4" fill="none"/>
<text x="410.7" y="91.2" font-size="12.2" fill="#000">30%C-40G</text>
<path d="M373.6 102.3H407.2" stroke="#0070c0" stroke-width="2" stroke-linecap="round" fill="none"/>
<text x="410.7" y="106.3" font-size="12.2" fill="#000">0%C-38L</text>
<path d="M373.6 117.1H407.2" stroke="#ff0000" stroke-width="2" stroke-linecap="round" fill="none"/>
<text x="410.7" y="121.1" font-size="12.2" fill="#000">10%C-38L</text>
<path d="M373.6 131.9H407.2" stroke="#00b050" stroke-width="2" stroke-linecap="round" fill="none"/>
<text x="410.7" y="135.9" font-size="12.2" fill="#000">20%C-38L</text>
<path d="M373.6 146.9H407.2" stroke="#000" stroke-width="2" stroke-linecap="round" fill="none"/>
<text x="410.7" y="150.9" font-size="12.2" fill="#000">30%C-38L</text>
<rect x="88" y="30.8" width="34" height="21.1" fill="#fff"/>
<text x="92.4" y="43.4" font-size="14" fill="#000">T<tspan font-size="9" dx="0.35" dy="3.2">100</tspan></text>
<path d="M105.4 53.9H78.8" stroke="#111" stroke-width="0.8" fill="none"/>
<path d="M72.8 53.9L85.3 50.3L80.8 53.9L85.3 57.5Z" fill="#000"/>
<rect x="88" y="57.9" width="34" height="21.1" fill="#fff"/>
<text x="92.8" y="70.8" font-size="14" fill="#000">T<tspan font-size="9" dx="0.35" dy="3.2">90G</tspan></text>
<path d="M105.4 81.0H78.8" stroke="#111" stroke-width="0.8" fill="none"/>
<path d="M72.8 81.0L85.3 77.4L80.8 81.0L85.3 84.6Z" fill="#000"/>
<rect x="118.1" y="158" width="34.7" height="31" fill="#fff"/>
<text x="120.4" y="172.1" font-size="14" fill="#000">T<tspan font-size="9" dx="0.35" dy="3.2">50G</tspan></text>
<path d="M114.9 179.4H88.4" stroke="#111" stroke-width="0.8" fill="none"/>
<path d="M82.4 179.4L94.9 175.8L90.4 179.4L94.9 183.0Z" fill="#000"/>
<rect x="222.6" y="180" width="29" height="20.5" fill="#fff"/>
<text x="223.8" y="193.4" font-size="14" fill="#000">T<tspan font-size="8.5" dx="0.35" dy="3.2">50L</tspan></text>
<path d="M242.8 203.3H268.4" stroke="#111" stroke-width="0.8" fill="none"/>
<path d="M274.4 203.3L261.9 199.70000000000002L266.4 203.3L261.9 206.9Z" fill="#000"/>
<rect x="225" y="240" width="28.2" height="19.1" fill="#fff"/>
<text x="226.2" y="253.6" font-size="14" fill="#000">T<tspan font-size="8.5" dx="0.35" dy="3.2">90L</tspan></text>
<path d="M245.8 262.3H272.2" stroke="#111" stroke-width="0.8" fill="none"/>
<path d="M278.2 262.3L265.7 258.7L270.2 262.3L265.7 265.90000000000003Z" fill="#000"/>
<rect x="241" y="280.2" width="32" height="21.1" fill="#fff"/>
<text x="243.9" y="292.2" font-size="14" fill="#000">T<tspan font-size="8.5" dx="0.35" dy="3.2">100L</tspan></text>
<path d="M259.8 277.7H286.8" stroke="#111" stroke-width="0.8" fill="none"/>
<path d="M292.8 277.7L280.3 274.09999999999997L284.8 277.7L280.3 281.3Z" fill="#000"/>
</svg>
</body></html>
